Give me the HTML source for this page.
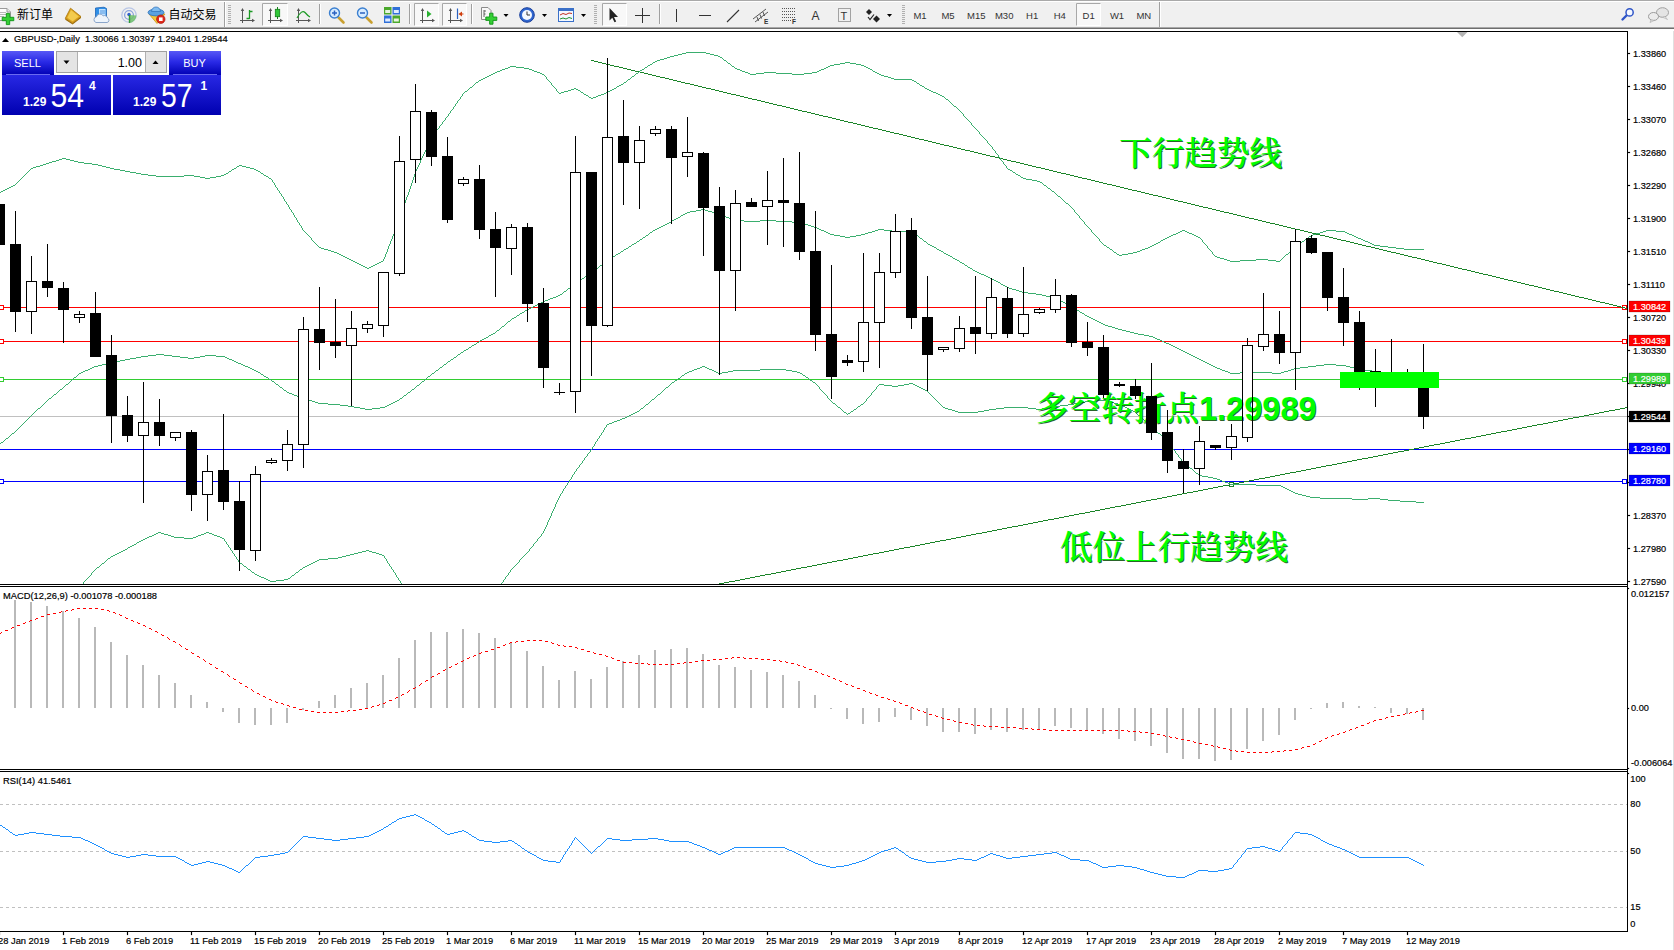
<!DOCTYPE html>
<html lang="zh"><head><meta charset="utf-8"><title>GBPUSD Daily</title>
<style>html,body{margin:0;padding:0;background:#fff;}body{width:1674px;height:950px;overflow:hidden;position:relative;font-family:'Liberation Sans', 'Noto Sans CJK SC', sans-serif;}svg{position:absolute;left:0;top:0;display:block}text{white-space:pre}</style>
</head><body>
<svg width="1674" height="950" viewBox="0 0 1674 950" font-family='"Liberation Sans", "Noto Sans CJK SC", sans-serif'>
<rect x="0" y="0" width="1674" height="950" fill="#ffffff"/>
<g id="toolbar">
<rect x="0" y="0" width="1674" height="29" fill="#f0f0f0"/>
<rect x="0" y="0" width="1674" height="1" fill="#a9a9a9" />
<rect x="0" y="1" width="1674" height="1" fill="#ffffff" />
<rect x="0" y="27" width="1674" height="1" fill="#a8a8a8" />
<rect x="0" y="28" width="1674" height="1" fill="#6e6e6e" />
<rect x="0" y="29" width="1674" height="1" fill="#ffffff" />
<rect x="0" y="30" width="1674" height="1" fill="#ffffff" />
</g>
<g id="tbicons">
<g><path d="M-1.5 8.5 H7 L10.5 12 V20.5 H-1.5 Z" fill="#fdfdfd" stroke="#9a9a9a"/><path d="M7 8.5 V12 H10.5" fill="#e8e8e8" stroke="#9a9a9a"/><path d="M0 12.5H6M0 14.5H7M0 16.5H4" stroke="#b8b8b8" stroke-width="1"/><path d="M6.3 13.4 H9.7 V17.3 H13.8 V20.7 H9.7 V24.6 H6.3 V20.7 H2.2 V17.3 H6.3 Z" fill="#35cf35" stroke="#0f9416" stroke-width="0.9"/></g>
<text x="17" y="18.5" font-size="12" fill="#000" font-family='"Liberation Sans", "Noto Sans CJK SC", sans-serif'>新订单</text>
<g><path d="M65.3 18.3 L72.6 23.2 L81 16.6 L81 18 L72.6 24.6 L65.3 19.8 Z" fill="#9a6a08"/><path d="M70.5 8.2 L81 16.6 L72.6 23.2 L65.3 18.3 Z" fill="#dca21e" stroke="#a87408" stroke-width="0.8"/><path d="M71 10 L78.8 16.4 L72.6 21.2 L67.3 17.8 Z" fill="#f3cb4e"/></g>
<g><path d="M95.5 8 L104 7.2 L106.5 8.5 V18 H95.5 Z" fill="#2f8fe6" stroke="#1a63b8" stroke-width="0.8"/><path d="M99 9 H105.5 V17 H99 Z" fill="#bfe0ff"/><path d="M100 11H105M100 13H105" stroke="#3b88d8" stroke-width="0.8"/><path d="M96 22.5 a3 3 0 0 1 0.5 -5.8 a3.6 3.6 0 0 1 6.6 -0.8 a3.2 3.2 0 0 1 4.6 2.3 a2.3 2.3 0 0 1 -0.6 4.3 Z" fill="#eef4fb" stroke="#7f9cc4" stroke-width="0.9"/></g>
<g fill="none"><circle cx="129" cy="15" r="7.2" stroke="#b9c6e6" stroke-width="1.3"/><circle cx="129" cy="15" r="4.4" stroke="#8aa2dc" stroke-width="1.3"/><path d="M129 15 L129 23 A8 8 0 0 0 136.5 15.5 Z" fill="#6fbf6a" stroke="none" opacity="0.85"/><circle cx="129" cy="14.5" r="1.7" fill="#2f5fd0"/><path d="M129.5 15 V23" stroke="#2e9a36" stroke-width="1.4"/></g>
<g><path d="M149 14 L165 14 L157 23.5 Z" fill="#f3c93c" stroke="#c9971a" stroke-width="0.8"/><ellipse cx="156" cy="12.5" rx="8" ry="3.4" fill="#5aa2e2" stroke="#2c6fb8" stroke-width="0.8"/><path d="M151.5 11.5 a4.5 4.5 0 0 1 9 0 Z" fill="#7fbcf0" stroke="#2c6fb8" stroke-width="0.7"/><circle cx="160.8" cy="19.2" r="4.2" fill="#e02a1c" stroke="#a8140c" stroke-width="0.7"/><rect x="159" y="17.4" width="3.6" height="3.6" fill="#fff"/></g>
<text x="168.5" y="18.5" font-size="12" fill="#000" font-family='"Liberation Sans", "Noto Sans CJK SC", sans-serif'>自动交易</text>
<rect x="224" y="2" width="1" height="25" fill="#a0a0a0"/><rect x="225" y="2" width="1" height="25" fill="#ffffff"/>
<rect x="228" y="5" width="3" height="1" fill="#b0b0b0"/>
<rect x="228" y="7" width="3" height="1" fill="#b0b0b0"/>
<rect x="228" y="9" width="3" height="1" fill="#b0b0b0"/>
<rect x="228" y="11" width="3" height="1" fill="#b0b0b0"/>
<rect x="228" y="13" width="3" height="1" fill="#b0b0b0"/>
<rect x="228" y="15" width="3" height="1" fill="#b0b0b0"/>
<rect x="228" y="17" width="3" height="1" fill="#b0b0b0"/>
<rect x="228" y="19" width="3" height="1" fill="#b0b0b0"/>
<rect x="228" y="21" width="3" height="1" fill="#b0b0b0"/>
<rect x="228" y="23" width="3" height="1" fill="#b0b0b0"/>
<g><path d="M242.5 9 V23 M240 20.5 H254" stroke="#555" stroke-width="1" fill="none"/><path d="M242.5 8 L240.8 11 H244.2 Z M255 20.5 L252 18.8 V22.2 Z" fill="#555"/><path d="M249.5 10 V19 M249.5 11.5 H252.5 M246.5 18.5 H249.5" stroke="#1c9a24" stroke-width="1.3" fill="none"/></g>
<rect x="262" y="3" width="26" height="23" fill="#f8f8f8"/><path d="M262.5 26 V3.5 H288" stroke="#a8a8a8" fill="none"/><path d="M262.5 25.5 H287.5 V3.5" stroke="#ffffff" fill="none"/>
<g><path d="M270.5 9 V23 M268 20.5 H282" stroke="#555" stroke-width="1" fill="none"/><path d="M270.5 8 L268.8 11 H272.2 Z M283 20.5 L280 18.8 V22.2 Z" fill="#555"/><path d="M277.5 7 V19" stroke="#14801c" stroke-width="1"/><rect x="275.3" y="9.3" width="4.4" height="7.4" fill="#30c838" stroke="#14801c" stroke-width="0.8"/></g>
<g><path d="M298.5 9 V23 M296 20.5 H310" stroke="#555" stroke-width="1" fill="none"/><path d="M298.5 8 L296.8 11 H300.2 Z M311 20.5 L308 18.8 V22.2 Z" fill="#555"/><path d="M297 18 Q302 9 305 12.5 T310 17" stroke="#1c9a24" stroke-width="1.2" fill="none"/></g>
<rect x="319" y="4" width="1" height="20" fill="#a0a0a0"/><rect x="320" y="4" width="1" height="20" fill="#ffffff"/>
<path d="M338.5 17.5 L343.5 22.5" stroke="#c9a030" stroke-width="2.6" stroke-linecap="round"/><circle cx="334.5" cy="13.0" r="5" fill="#d8ecff" stroke="#3a7fd0" stroke-width="1.4"/><path d="M332 13.0 H337" stroke="#2a62c0" stroke-width="1.5"/><path d="M334.5 10.5 V15.5" stroke="#2a62c0" stroke-width="1.5"/>
<path d="M366.5 17.5 L371.5 22.5" stroke="#c9a030" stroke-width="2.6" stroke-linecap="round"/><circle cx="362.5" cy="13.0" r="5" fill="#d8ecff" stroke="#3a7fd0" stroke-width="1.4"/><path d="M360 13.0 H365" stroke="#2a62c0" stroke-width="1.5"/>
<g><rect x="384" y="7" width="7.5" height="7.5" fill="#4aa82c"/><rect x="392.5" y="7" width="7.5" height="7.5" fill="#2f6fd8"/><rect x="384" y="15.5" width="7.5" height="7.5" fill="#2f6fd8"/><rect x="392.5" y="15.5" width="7.5" height="7.5" fill="#4aa82c"/><rect x="385.2" y="10" width="5" height="3" fill="#e8f4e0"/><rect x="393.8" y="10" width="5" height="3" fill="#e0ecff"/><rect x="385.2" y="18.5" width="5" height="3" fill="#e0ecff"/><rect x="393.8" y="18.5" width="5" height="3" fill="#e8f4e0"/></g>
<rect x="409" y="4" width="1" height="20" fill="#a0a0a0"/><rect x="410" y="4" width="1" height="20" fill="#ffffff"/>
<rect x="414" y="3" width="25" height="23" fill="#f8f8f8"/><path d="M414.5 26 V3.5 H439" stroke="#a8a8a8" fill="none"/><path d="M414.5 25.5 H438.5 V3.5" stroke="#ffffff" fill="none"/>
<g><path d="M422.5 9 V23 M420 20.5 H434" stroke="#555" stroke-width="1" fill="none"/><path d="M422.5 8 L420.8 11 H424.2 Z M435 20.5 L432 18.8 V22.2 Z" fill="#555"/><path d="M427 10.5 L431.5 14 L427 17.5 Z" fill="#28b030"/></g>
<rect x="442" y="3" width="25" height="23" fill="#f8f8f8"/><path d="M442.5 26 V3.5 H467" stroke="#a8a8a8" fill="none"/><path d="M442.5 25.5 H466.5 V3.5" stroke="#ffffff" fill="none"/>
<g><path d="M450.5 9 V23 M448 20.5 H462" stroke="#555" stroke-width="1" fill="none"/><path d="M450.5 8 L448.8 11 H452.2 Z M463 20.5 L460 18.8 V22.2 Z" fill="#555"/><path d="M457.5 8.5 V19" stroke="#2a62c0" stroke-width="1.2"/><path d="M458.5 14 L462 11.5 V16.5 Z" fill="#d04010"/><path d="M460 14 H463.5" stroke="#d04010" stroke-width="1"/></g>
<rect x="471" y="4" width="1" height="20" fill="#a0a0a0"/><rect x="472" y="4" width="1" height="20" fill="#ffffff"/>
<g><path d="M481.5 7.5 H488 L491 10.5 V19.5 H481.5 Z" fill="#f8f8f8" stroke="#8a8a8a"/><path d="M484 10 V17 M484 11H486 M484 14H485.5" stroke="#555" stroke-width="0.9" fill="none"/><path d="M489.6 13.2 H493 V17 H496.8 V20.4 H493 V24.2 H489.6 V20.4 H485.8 V17 H489.6 Z" fill="#35cf35" stroke="#0f9416" stroke-width="0.9"/></g>
<path d="M503.5 14 H508.5 L506.0 17 Z" fill="#000"/>
<g><circle cx="527" cy="15" r="7.3" fill="#2f66d0" stroke="#1a3f9a" stroke-width="1"/><circle cx="527" cy="15" r="5" fill="#f4f8ff"/><path d="M527 11.5 V15 H530" stroke="#333" stroke-width="1" fill="none"/></g>
<path d="M542 14 H547 L544.5 17 Z" fill="#000"/>
<g><rect x="558.5" y="8.5" width="15" height="13" fill="#f4f8ff" stroke="#3a70c8"/><rect x="558" y="8" width="16" height="3" fill="#3a70c8"/><path d="M560 15 L563 13.5 L566 14.5 L569 13 L572 13.5" stroke="#c03020" stroke-width="1" fill="none"/><path d="M560 19 L563 18 L566 19 L569 17.5 L572 18.5" stroke="#209030" stroke-width="1" fill="none"/></g>
<path d="M581 14 H586 L583.5 17 Z" fill="#000"/>
<rect x="594" y="5" width="3" height="1" fill="#b0b0b0"/>
<rect x="594" y="7" width="3" height="1" fill="#b0b0b0"/>
<rect x="594" y="9" width="3" height="1" fill="#b0b0b0"/>
<rect x="594" y="11" width="3" height="1" fill="#b0b0b0"/>
<rect x="594" y="13" width="3" height="1" fill="#b0b0b0"/>
<rect x="594" y="15" width="3" height="1" fill="#b0b0b0"/>
<rect x="594" y="17" width="3" height="1" fill="#b0b0b0"/>
<rect x="594" y="19" width="3" height="1" fill="#b0b0b0"/>
<rect x="594" y="21" width="3" height="1" fill="#b0b0b0"/>
<rect x="594" y="23" width="3" height="1" fill="#b0b0b0"/>
<rect x="602" y="3" width="25" height="23" fill="#f8f8f8"/><path d="M602.5 26 V3.5 H627" stroke="#a8a8a8" fill="none"/><path d="M602.5 25.5 H626.5 V3.5" stroke="#ffffff" fill="none"/>
<path d="M609.5 8 L609.5 20.5 L612.3 17.8 L614.5 22.3 L616.2 21.5 L614 17 L618 17 Z" fill="#222"/>
<path d="M642.5 8 V23 M635 15.5 H650" stroke="#333" stroke-width="1" fill="none"/>
<rect x="659" y="4" width="1" height="20" fill="#a0a0a0"/><rect x="660" y="4" width="1" height="20" fill="#ffffff"/>
<path d="M676.5 9 V22" stroke="#333" stroke-width="1"/><path d="M699 15.5 H711" stroke="#333" stroke-width="1"/><path d="M727 22 L739 10" stroke="#333" stroke-width="1.1"/>
<g stroke="#444" stroke-width="0.9" fill="none"><path d="M753 19 L766 9 M755 22 L768 12 M757 17 L758.5 21 M760 14.5 L761.5 18.5 M763 12 L764.5 16"/></g>
<text x="764" y="24" font-size="6.5" font-weight="700" fill="#333">E</text>
<g stroke="#555" stroke-width="1" stroke-dasharray="1 1"><path d="M782 8.5 H795 M782 11.5 H795 M782 14.5 H795 M782 17.5 H795 M782 20.5 H791"/></g>
<text x="792" y="24" font-size="6.5" font-weight="700" fill="#333">F</text>
<text x="811.5" y="20" font-size="12" fill="#333">A</text>
<rect x="838.5" y="8.5" width="12" height="13" fill="none" stroke="#555" stroke-dasharray="1 1"/>
<text x="840.5" y="20" font-size="11" fill="#333">T</text>
<g fill="#222"><path d="M866 12 L869 9 L872 12 L869 15 Z"/><path d="M873 19 L876.5 15.5 L880 19 L876.5 22.5 Z"/><path d="M868 17 L870 19.5 L874 14.5" stroke="#222" stroke-width="1.2" fill="none"/></g>
<path d="M887 14 H892 L889.5 17 Z" fill="#000"/>
<rect x="902" y="5" width="3" height="1" fill="#b0b0b0"/>
<rect x="902" y="7" width="3" height="1" fill="#b0b0b0"/>
<rect x="902" y="9" width="3" height="1" fill="#b0b0b0"/>
<rect x="902" y="11" width="3" height="1" fill="#b0b0b0"/>
<rect x="902" y="13" width="3" height="1" fill="#b0b0b0"/>
<rect x="902" y="15" width="3" height="1" fill="#b0b0b0"/>
<rect x="902" y="17" width="3" height="1" fill="#b0b0b0"/>
<rect x="902" y="19" width="3" height="1" fill="#b0b0b0"/>
<rect x="902" y="21" width="3" height="1" fill="#b0b0b0"/>
<rect x="902" y="23" width="3" height="1" fill="#b0b0b0"/>
<rect x="1076" y="3" width="25" height="23" fill="#f8f8f8"/><path d="M1076.5 26 V3.5 H1101" stroke="#a8a8a8" fill="none"/><path d="M1076.5 25.5 H1100.5 V3.5" stroke="#ffffff" fill="none"/>
<text x="920" y="19.2" font-size="9.5" text-anchor="middle" fill="#333">M1</text>
<text x="948" y="19.2" font-size="9.5" text-anchor="middle" fill="#333">M5</text>
<text x="976.3" y="19.2" font-size="9.5" text-anchor="middle" fill="#333">M15</text>
<text x="1004.2" y="19.2" font-size="9.5" text-anchor="middle" fill="#333">M30</text>
<text x="1032.2" y="19.2" font-size="9.5" text-anchor="middle" fill="#333">H1</text>
<text x="1059.8" y="19.2" font-size="9.5" text-anchor="middle" fill="#333">H4</text>
<text x="1088.6" y="19.2" font-size="9.5" text-anchor="middle" fill="#333">D1</text>
<text x="1117" y="19.2" font-size="9.5" text-anchor="middle" fill="#333">W1</text>
<text x="1143.8" y="19.2" font-size="9.5" text-anchor="middle" fill="#333">MN</text>
<rect x="1159" y="2" width="1" height="25" fill="#a0a0a0"/><rect x="1160" y="2" width="1" height="25" fill="#ffffff"/>
<g><path d="M1622.5 19.5 L1626.5 15.5" stroke="#2f55c8" stroke-width="2.4" stroke-linecap="round"/><circle cx="1629.6" cy="12.4" r="3.6" fill="#f4f8ff" stroke="#2f55c8" stroke-width="1.5"/></g>
<g><ellipse cx="1662.5" cy="12.5" rx="6" ry="4.8" fill="#e4e4e4" stroke="#a0a0a0"/><path d="M1665 16.5 L1667.5 19.5 L1662.5 17.2 Z" fill="#e8e8e8" stroke="#b4b4b4" stroke-width="0.7"/><ellipse cx="1653.5" cy="16.5" rx="5" ry="4" fill="#ececec" stroke="#9c9c9c"/><path d="M1651 20 L1650 22.5 L1654.5 20.3 Z" fill="#f0f0f0" stroke="#aaaaaa" stroke-width="0.7"/></g>
</g>
<g id="frame" shape-rendering="crispEdges">
<rect x="0" y="31" width="1628" height="1" fill="#000" />
<rect x="1627" y="31" width="1" height="900" fill="#000"/>
<rect x="0" y="584" width="1628" height="1" fill="#000" />
<rect x="0" y="586" width="1628" height="1" fill="#000" />
<rect x="0" y="769" width="1628" height="1" fill="#000" />
<rect x="0" y="771" width="1628" height="1" fill="#000" />
<rect x="0" y="931" width="1628" height="1" fill="#000" />
<rect x="1673" y="31" width="1" height="919" fill="#e0e0e0"/>
</g>
<defs><clipPath id="cmain"><rect x="0" y="32" width="1627" height="552"/></clipPath><clipPath id="cmacd"><rect x="0" y="587" width="1627" height="182"/></clipPath><clipPath id="crsi"><rect x="0" y="772" width="1627" height="159"/></clipPath><linearGradient id="gb" x1="0" y1="0" x2="0" y2="1"><stop offset="0" stop-color="#5858f6"/><stop offset="0.45" stop-color="#2a2ae6"/><stop offset="1" stop-color="#0000b4"/></linearGradient></defs>
<g id="main" clip-path="url(#cmain)">
<g shape-rendering="crispEdges">
<rect x="0" y="416" width="1627" height="1" fill="#c0c0c0" />
<rect x="0" y="307" width="1627" height="1" fill="#ff0000" /><rect x="-0.5" y="305.5" width="4" height="4" fill="#fff" stroke="#ff0000" stroke-width="1"/><rect x="1622.5" y="305.5" width="4" height="4" fill="#fff" stroke="#ff0000" stroke-width="1"/>
<rect x="0" y="341" width="1627" height="1" fill="#ff0000" /><rect x="-0.5" y="339.5" width="4" height="4" fill="#fff" stroke="#ff0000" stroke-width="1"/><rect x="1622.5" y="339.5" width="4" height="4" fill="#fff" stroke="#ff0000" stroke-width="1"/>
<rect x="0" y="379" width="1627" height="1" fill="#32cd32" /><rect x="-0.5" y="377.5" width="4" height="4" fill="#fff" stroke="#32cd32" stroke-width="1"/><rect x="1622.5" y="377.5" width="4" height="4" fill="#fff" stroke="#32cd32" stroke-width="1"/>
<rect x="0" y="449" width="1627" height="1" fill="#0000ff" />
<rect x="0" y="481" width="1627" height="1" fill="#0000ff" /><rect x="-0.5" y="479.5" width="4" height="4" fill="#fff" stroke="#0000ff" stroke-width="1"/><rect x="1622.5" y="479.5" width="4" height="4" fill="#fff" stroke="#0000ff" stroke-width="1"/>
<path d="M591 60.5h3M594 61.5h4M598 62.5h4M602 63.5h4M606 64.5h4M610 65.5h4M614 66.5h5M619 67.5h4M623 68.5h4M627 69.5h4M631 70.5h4M635 71.5h5M640 72.5h4M644 73.5h4M648 74.5h4M652 75.5h4M656 76.5h4M660 77.5h5M665 78.5h4M669 79.5h4M673 80.5h4M677 81.5h4M681 82.5h4M685 83.5h5M690 84.5h4M694 85.5h4M698 86.5h4M702 87.5h4M706 88.5h5M711 89.5h4M715 90.5h4M719 91.5h4M723 92.5h4M727 93.5h4M731 94.5h5M736 95.5h4M740 96.5h4M744 97.5h4M748 98.5h4M752 99.5h5M757 100.5h4M761 101.5h4M765 102.5h4M769 103.5h4M773 104.5h4M777 105.5h5M782 106.5h4M786 107.5h4M790 108.5h4M794 109.5h4M798 110.5h4M802 111.5h5M807 112.5h4M811 113.5h4M815 114.5h4M819 115.5h4M823 116.5h5M828 117.5h4M832 118.5h4M836 119.5h4M840 120.5h4M844 121.5h4M848 122.5h5M853 123.5h4M857 124.5h4M861 125.5h4M865 126.5h4M869 127.5h4M873 128.5h5M878 129.5h4M882 130.5h4M886 131.5h4M890 132.5h4M894 133.5h5M899 134.5h4M903 135.5h4M907 136.5h4M911 137.5h4M915 138.5h4M919 139.5h5M924 140.5h4M928 141.5h4M932 142.5h4M936 143.5h4M940 144.5h4M944 145.5h5M949 146.5h4M953 147.5h4M957 148.5h4M961 149.5h4M965 150.5h5M970 151.5h4M974 152.5h4M978 153.5h4M982 154.5h4M986 155.5h4M990 156.5h5M995 157.5h4M999 158.5h4M1003 159.5h4M1007 160.5h4M1011 161.5h5M1016 162.5h4M1020 163.5h4M1024 164.5h4M1028 165.5h4M1032 166.5h4M1036 167.5h5M1041 168.5h4M1045 169.5h4M1049 170.5h4M1053 171.5h4M1057 172.5h4M1061 173.5h5M1066 174.5h4M1070 175.5h4M1074 176.5h4M1078 177.5h4M1082 178.5h5M1087 179.5h4M1091 180.5h4M1095 181.5h4M1099 182.5h4M1103 183.5h4M1107 184.5h5M1112 185.5h4M1116 186.5h4M1120 187.5h4M1124 188.5h4M1128 189.5h4M1132 190.5h5M1137 191.5h4M1141 192.5h4M1145 193.5h4M1149 194.5h4M1153 195.5h5M1158 196.5h4M1162 197.5h4M1166 198.5h4M1170 199.5h4M1174 200.5h4M1178 201.5h5M1183 202.5h4M1187 203.5h4M1191 204.5h4M1195 205.5h4M1199 206.5h4M1203 207.5h5M1208 208.5h4M1212 209.5h4M1216 210.5h4M1220 211.5h4M1224 212.5h5M1229 213.5h4M1233 214.5h4M1237 215.5h4M1241 216.5h4M1245 217.5h4M1249 218.5h5M1254 219.5h4M1258 220.5h4M1262 221.5h4M1266 222.5h4M1270 223.5h5M1275 224.5h4M1279 225.5h4M1283 226.5h4M1287 227.5h4M1291 228.5h4M1295 229.5h5M1300 230.5h4M1304 231.5h4M1308 232.5h4M1312 233.5h4M1316 234.5h4M1320 235.5h5M1325 236.5h4M1329 237.5h4M1333 238.5h4M1337 239.5h4M1341 240.5h5M1346 241.5h4M1350 242.5h4M1354 243.5h4M1358 244.5h4M1362 245.5h4M1366 246.5h5M1371 247.5h4M1375 248.5h4M1379 249.5h4M1383 250.5h4M1387 251.5h4M1391 252.5h5M1396 253.5h4M1400 254.5h4M1404 255.5h4M1408 256.5h4M1412 257.5h5M1417 258.5h4M1421 259.5h4M1425 260.5h4M1429 261.5h4M1433 262.5h4M1437 263.5h5M1442 264.5h4M1446 265.5h4M1450 266.5h4M1454 267.5h4M1458 268.5h4M1462 269.5h5M1467 270.5h4M1471 271.5h4M1475 272.5h4M1479 273.5h4M1483 274.5h5M1488 275.5h4M1492 276.5h4M1496 277.5h4M1500 278.5h4M1504 279.5h4M1508 280.5h5M1513 281.5h4M1517 282.5h4M1521 283.5h4M1525 284.5h4M1529 285.5h5M1534 286.5h4M1538 287.5h4M1542 288.5h4M1546 289.5h4M1550 290.5h4M1554 291.5h5M1559 292.5h4M1563 293.5h4M1567 294.5h4M1571 295.5h4M1575 296.5h4M1579 297.5h5M1584 298.5h4M1588 299.5h4M1592 300.5h4M1596 301.5h4M1600 302.5h5M1605 303.5h4M1609 304.5h4M1613 305.5h4M1617 306.5h4M1621 307.5h4M1625 308.5h2" fill="none" stroke="#1a8428" stroke-width="1" shape-rendering="crispEdges"/>
<path d="M1625 407.5h2M1620 408.5h5M1615 409.5h5M1609 410.5h6M1604 411.5h5M1599 412.5h5M1594 413.5h5M1589 414.5h5M1584 415.5h5M1579 416.5h5M1573 417.5h6M1568 418.5h5M1563 419.5h5M1558 420.5h5M1553 421.5h5M1548 422.5h5M1543 423.5h5M1537 424.5h6M1532 425.5h5M1527 426.5h5M1522 427.5h5M1517 428.5h5M1512 429.5h5M1507 430.5h5M1501 431.5h6M1496 432.5h5M1491 433.5h5M1486 434.5h5M1481 435.5h5M1476 436.5h5M1471 437.5h5M1465 438.5h6M1460 439.5h5M1455 440.5h5M1450 441.5h5M1445 442.5h5M1440 443.5h5M1434 444.5h6M1429 445.5h5M1424 446.5h5M1419 447.5h5M1414 448.5h5M1409 449.5h5M1404 450.5h5M1398 451.5h6M1393 452.5h5M1388 453.5h5M1383 454.5h5M1378 455.5h5M1373 456.5h5M1368 457.5h5M1362 458.5h6M1357 459.5h5M1352 460.5h5M1347 461.5h5M1342 462.5h5M1337 463.5h5M1332 464.5h5M1326 465.5h6M1321 466.5h5M1316 467.5h5M1311 468.5h5M1306 469.5h5M1301 470.5h5M1296 471.5h5M1290 472.5h6M1285 473.5h5M1280 474.5h5M1275 475.5h5M1270 476.5h5M1265 477.5h5M1259 478.5h6M1254 479.5h5M1249 480.5h5M1244 481.5h5M1239 482.5h5M1234 483.5h5M1229 484.5h5M1223 485.5h6M1218 486.5h5M1213 487.5h5M1208 488.5h5M1203 489.5h5M1198 490.5h5M1193 491.5h5M1187 492.5h6M1182 493.5h5M1177 494.5h5M1172 495.5h5M1167 496.5h5M1162 497.5h5M1157 498.5h5M1151 499.5h6M1146 500.5h5M1141 501.5h5M1136 502.5h5M1131 503.5h5M1126 504.5h5M1121 505.5h5M1115 506.5h6M1110 507.5h5M1105 508.5h5M1100 509.5h5M1095 510.5h5M1090 511.5h5M1085 512.5h5M1079 513.5h6M1074 514.5h5M1069 515.5h5M1064 516.5h5M1059 517.5h5M1054 518.5h5M1048 519.5h6M1043 520.5h5M1038 521.5h5M1033 522.5h5M1028 523.5h5M1023 524.5h5M1018 525.5h5M1012 526.5h6M1007 527.5h5M1002 528.5h5M997 529.5h5M992 530.5h5M987 531.5h5M982 532.5h5M976 533.5h6M971 534.5h5M966 535.5h5M961 536.5h5M956 537.5h5M951 538.5h5M946 539.5h5M940 540.5h6M935 541.5h5M930 542.5h5M925 543.5h5M920 544.5h5M915 545.5h5M910 546.5h5M904 547.5h6M899 548.5h5M894 549.5h5M889 550.5h5M884 551.5h5M879 552.5h5M873 553.5h6M868 554.5h5M863 555.5h5M858 556.5h5M853 557.5h5M848 558.5h5M843 559.5h5M837 560.5h6M832 561.5h5M827 562.5h5M822 563.5h5M817 564.5h5M812 565.5h5M807 566.5h5M801 567.5h6M796 568.5h5M791 569.5h5M786 570.5h5M781 571.5h5M776 572.5h5M771 573.5h5M765 574.5h6M760 575.5h5M755 576.5h5M750 577.5h5M745 578.5h5M740 579.5h5M735 580.5h5M729 581.5h6M724 582.5h5M719 583.5h5" fill="none" stroke="#1a8428" stroke-width="1" shape-rendering="crispEdges"/>
<rect x="1229.5" y="482.5" width="4" height="4" fill="#fff" stroke="#1a8428" stroke-width="1"/>
</g>
<path d="M272.5 180v2M274.5 183v2M275.5 185v2M277.5 188v2M279.5 191v2M281.5 194v2M283.5 197v2M284.5 199v2M286.5 202v2M288.5 205v2M289.5 207v2M291.5 210v2M293.5 213v2M294.5 215v2M296.5 218v2M297.5 220v2M299.5 223v2M301.5 226v2M302.5 228v2M311.5 238v2M383.5 259v2M384.5 257v2M385.5 254v3M386.5 252v2M387.5 249v3M388.5 246v3M389.5 244v2M390.5 241v3M391.5 239v2M392.5 236v3M393.5 234v2M394.5 231v3M395.5 228v3M396.5 226v2M397.5 223v3M398.5 221v2M399.5 218v3M400.5 215v3M401.5 212v3M402.5 209v3M403.5 206v3M404.5 203v3M405.5 200v3M406.5 197v3M407.5 195v2M408.5 192v3M409.5 189v3M410.5 186v3M411.5 183v3M412.5 180v3M413.5 177v3M414.5 174v3M415.5 171v3M416.5 169v2M417.5 167v2M418.5 165v2M419.5 163v2M420.5 160v3M421.5 158v2M422.5 156v2M423.5 154v2M424.5 152v2M425.5 150v2M426.5 147v3M427.5 145v2M428.5 143v2M429.5 141v2M430.5 139v2M431.5 137v2M433.5 134v2M436.5 130v2M439.5 126v2M442.5 122v2M445.5 118v2M448.5 114v2M450.5 111v2M453.5 107v2M455.5 104v2M457.5 101v2M460.5 97v2M462.5 94v2M546.5 77v2M551.5 83v2M556.5 89v2M963.5 114v2M971.5 123v2M979.5 132v2M987.5 141v2M992.5 147v2M995.5 151v2M998.5 155v2M1000.5 158v2M1003.5 162v2M1006.5 166v2M1074.5 210v2M1079.5 216v2M1084.5 222v2M1091.5 230v2M1099.5 239v2M1202.5 240v2M1207.5 246v2M1212.5 252v2M686 52.5h20M682 53.5h4M706 53.5h4M678 54.5h4M710 54.5h4M674 55.5h4M714 55.5h4M670 56.5h4M718 56.5h2M667 57.5h3M720 57.5h2M664 58.5h3M722 58.5h1M660 59.5h4M723 59.5h1M657 60.5h3M724 60.5h2M655 61.5h2M726 61.5h1M653 62.5h2M727 62.5h1M845 62.5h5M652 63.5h1M728 63.5h2M840 63.5h5M850 63.5h6M650 64.5h2M730 64.5h1M834 64.5h6M856 64.5h5M648 65.5h2M731 65.5h1M830 65.5h4M861 65.5h3M510 66.5h6M647 66.5h1M732 66.5h2M828 66.5h2M864 66.5h2M508 67.5h2M516 67.5h8M645 67.5h2M734 67.5h1M826 67.5h2M866 67.5h2M505 68.5h3M524 68.5h5M644 68.5h1M735 68.5h2M824 68.5h2M868 68.5h2M502 69.5h3M529 69.5h3M642 69.5h2M737 69.5h3M821 69.5h3M870 69.5h2M500 70.5h2M532 70.5h2M640 70.5h2M740 70.5h2M819 70.5h2M872 70.5h1M497 71.5h3M534 71.5h3M639 71.5h1M742 71.5h3M817 71.5h2M873 71.5h2M495 72.5h2M537 72.5h3M638 72.5h1M745 72.5h3M764 72.5h12M812 72.5h5M875 72.5h2M493 73.5h2M540 73.5h2M636 73.5h2M748 73.5h2M756 73.5h8M776 73.5h16M804 73.5h8M877 73.5h2M491 74.5h2M542 74.5h2M635 74.5h1M750 74.5h6M792 74.5h12M879 74.5h2M489 75.5h2M544 75.5h1M634 75.5h1M881 75.5h3M487 76.5h2M545 76.5h1M632 76.5h2M884 76.5h4M485 77.5h2M631 77.5h1M888 77.5h3M483 78.5h2M630 78.5h1M891 78.5h3M481 79.5h2M547 79.5h1M628 79.5h2M894 79.5h18M479 80.5h2M548 80.5h1M627 80.5h1M912 80.5h2M478 81.5h1M549 81.5h1M626 81.5h1M914 81.5h2M476 82.5h2M550 82.5h1M624 82.5h2M916 82.5h1M475 83.5h1M623 83.5h1M917 83.5h2M474 84.5h1M621 84.5h2M919 84.5h1M473 85.5h1M552 85.5h1M619 85.5h2M920 85.5h2M472 86.5h1M553 86.5h1M617 86.5h2M922 86.5h2M470 87.5h2M554 87.5h1M616 87.5h1M924 87.5h1M469 88.5h1M555 88.5h1M574 88.5h2M614 88.5h2M925 88.5h2M468 89.5h1M571 89.5h3M576 89.5h2M612 89.5h2M927 89.5h2M467 90.5h1M568 90.5h3M578 90.5h2M610 90.5h2M929 90.5h2M465 91.5h2M557 91.5h1M564 91.5h4M580 91.5h1M608 91.5h2M931 91.5h2M464 92.5h1M558 92.5h1M561 92.5h3M581 92.5h2M606 92.5h2M933 92.5h3M463 93.5h1M559 93.5h2M583 93.5h1M604 93.5h2M936 93.5h2M584 94.5h2M601 94.5h3M938 94.5h2M586 95.5h2M598 95.5h3M940 95.5h2M461 96.5h1M588 96.5h1M596 96.5h2M942 96.5h2M589 97.5h2M593 97.5h3M944 97.5h1M591 98.5h2M945 98.5h1M459 99.5h1M946 99.5h2M458 100.5h1M948 100.5h1M949 101.5h1M950 102.5h1M456 103.5h1M951 103.5h1M952 104.5h1M953 105.5h1M454 106.5h1M954 106.5h2M956 107.5h1M957 108.5h1M452 109.5h1M958 109.5h1M451 110.5h1M959 110.5h1M960 111.5h1M961 112.5h1M449 113.5h1M962 113.5h1M447 116.5h1M964 116.5h1M446 117.5h1M965 117.5h1M966 118.5h1M967 119.5h1M444 120.5h1M968 120.5h1M443 121.5h1M969 121.5h1M970 122.5h1M441 124.5h1M440 125.5h1M972 125.5h1M973 126.5h1M974 127.5h1M438 128.5h1M975 128.5h1M437 129.5h1M976 129.5h1M977 130.5h1M978 131.5h1M435 132.5h1M434 133.5h1M980 134.5h1M981 135.5h1M432 136.5h1M982 136.5h1M983 137.5h1M984 138.5h1M985 139.5h1M986 140.5h1M988 143.5h1M989 144.5h1M990 145.5h1M991 146.5h1M993 149.5h1M994 150.5h1M996 153.5h1M997 154.5h1M999 157.5h1M62 158.5h4M59 159.5h3M66 159.5h4M56 160.5h3M70 160.5h4M1001 160.5h1M52 161.5h4M74 161.5h4M1002 161.5h1M49 162.5h3M78 162.5h6M46 163.5h3M84 163.5h8M43 164.5h3M92 164.5h6M1004 164.5h1M40 165.5h3M98 165.5h4M239 165.5h3M1005 165.5h1M36 166.5h4M102 166.5h4M237 166.5h2M242 166.5h4M33 167.5h3M106 167.5h4M236 167.5h1M246 167.5h4M31 168.5h2M110 168.5h4M234 168.5h2M250 168.5h4M1007 168.5h1M30 169.5h1M114 169.5h6M232 169.5h2M254 169.5h2M1008 169.5h2M29 170.5h1M120 170.5h5M231 170.5h1M256 170.5h2M1010 170.5h2M28 171.5h1M125 171.5h5M229 171.5h2M258 171.5h2M1012 171.5h1M27 172.5h1M130 172.5h6M228 172.5h1M260 172.5h1M1013 172.5h2M26 173.5h1M136 173.5h5M226 173.5h2M261 173.5h2M1015 173.5h1M25 174.5h1M141 174.5h7M224 174.5h2M263 174.5h1M1016 174.5h2M24 175.5h1M148 175.5h8M184 175.5h10M221 175.5h3M264 175.5h2M1018 175.5h2M23 176.5h1M156 176.5h28M194 176.5h6M216 176.5h5M266 176.5h2M1020 176.5h1M22 177.5h1M200 177.5h5M210 177.5h6M268 177.5h1M1021 177.5h2M21 178.5h1M205 178.5h5M269 178.5h2M1023 178.5h3M20 179.5h1M271 179.5h1M1026 179.5h6M19 180.5h1M1032 180.5h5M18 181.5h1M1037 181.5h3M17 182.5h1M273 182.5h1M1040 182.5h2M16 183.5h1M1042 183.5h1M15 184.5h1M1043 184.5h1M13 185.5h2M1044 185.5h2M11 186.5h2M1046 186.5h1M9 187.5h2M276 187.5h1M1047 187.5h1M7 188.5h2M1048 188.5h2M5 189.5h2M1050 189.5h1M3 190.5h2M278 190.5h1M1051 190.5h1M1 191.5h2M1052 191.5h2M0 192.5h1M1054 192.5h1M280 193.5h1M1055 193.5h1M1056 194.5h1M1057 195.5h1M282 196.5h1M1058 196.5h2M1060 197.5h1M1061 198.5h1M1062 199.5h1M1063 200.5h1M285 201.5h1M1064 201.5h1M1065 202.5h1M1066 203.5h2M287 204.5h1M1068 204.5h1M1069 205.5h1M1070 206.5h1M1071 207.5h1M1072 208.5h1M290 209.5h1M1073 209.5h1M292 212.5h1M1075 212.5h1M1076 213.5h1M1077 214.5h1M1078 215.5h1M295 217.5h1M1080 218.5h1M1081 219.5h1M1082 220.5h1M1083 221.5h1M298 222.5h1M1085 224.5h1M300 225.5h1M1086 225.5h1M1087 226.5h1M1088 227.5h1M1089 228.5h1M1090 229.5h1M303 230.5h1M1182 230.5h3M1326 230.5h10M304 231.5h1M1180 231.5h2M1185 231.5h2M1323 231.5h3M1336 231.5h9M305 232.5h1M1092 232.5h1M1178 232.5h2M1187 232.5h2M1320 232.5h3M1345 232.5h2M306 233.5h1M1093 233.5h1M1176 233.5h2M1189 233.5h3M1316 233.5h4M1347 233.5h2M307 234.5h1M1094 234.5h1M1173 234.5h3M1192 234.5h2M1313 234.5h3M1349 234.5h3M308 235.5h1M1095 235.5h1M1171 235.5h2M1194 235.5h2M1311 235.5h2M1352 235.5h2M309 236.5h1M1096 236.5h1M1169 236.5h2M1196 236.5h2M1309 236.5h2M1354 236.5h2M310 237.5h1M1097 237.5h1M1167 237.5h2M1198 237.5h2M1308 237.5h1M1356 237.5h2M1098 238.5h1M1165 238.5h2M1200 238.5h1M1306 238.5h2M1358 238.5h3M1163 239.5h2M1201 239.5h1M1305 239.5h1M1361 239.5h2M312 240.5h1M1161 240.5h2M1304 240.5h1M1363 240.5h2M313 241.5h1M1100 241.5h1M1160 241.5h1M1302 241.5h2M1365 241.5h3M314 242.5h1M1101 242.5h1M1158 242.5h2M1203 242.5h1M1301 242.5h1M1368 242.5h2M315 243.5h1M1102 243.5h1M1156 243.5h2M1204 243.5h1M1299 243.5h2M1370 243.5h2M316 244.5h1M1103 244.5h1M1154 244.5h2M1205 244.5h1M1298 244.5h1M1372 244.5h2M317 245.5h1M1104 245.5h2M1152 245.5h2M1206 245.5h1M1296 245.5h2M1374 245.5h6M318 246.5h1M1106 246.5h1M1150 246.5h2M1295 246.5h1M1380 246.5h8M319 247.5h2M1107 247.5h2M1148 247.5h2M1294 247.5h1M1388 247.5h8M321 248.5h3M1109 248.5h1M1145 248.5h3M1208 248.5h1M1293 248.5h1M1396 248.5h8M324 249.5h4M1110 249.5h2M1142 249.5h3M1209 249.5h1M1292 249.5h1M1404 249.5h20M328 250.5h3M1112 250.5h1M1140 250.5h2M1210 250.5h1M1291 250.5h1M331 251.5h3M1113 251.5h1M1137 251.5h3M1211 251.5h1M1290 251.5h1M334 252.5h3M1114 252.5h2M1133 252.5h4M1289 252.5h1M337 253.5h2M1116 253.5h1M1128 253.5h5M1288 253.5h1M339 254.5h2M1117 254.5h2M1122 254.5h6M1213 254.5h1M1286 254.5h2M341 255.5h2M1119 255.5h3M1214 255.5h1M1285 255.5h1M343 256.5h2M1215 256.5h2M1284 256.5h1M345 257.5h2M1217 257.5h3M1283 257.5h1M347 258.5h2M1220 258.5h4M1282 258.5h1M349 259.5h2M1224 259.5h3M1256 259.5h12M1281 259.5h1M351 260.5h2M1227 260.5h3M1240 260.5h16M1268 260.5h8M1280 260.5h1M353 261.5h2M381 261.5h2M1230 261.5h10M1276 261.5h4M355 262.5h2M379 262.5h2M357 263.5h2M377 263.5h2M359 264.5h2M375 264.5h2M361 265.5h2M373 265.5h2M363 266.5h2M371 266.5h2M365 267.5h2M369 267.5h2M367 268.5h2" fill="none" stroke="#3aae6e" stroke-width="1" shape-rendering="crispEdges"/>
<path d="M701 209.5h4M696 210.5h5M705 210.5h3M690 211.5h6M708 211.5h4M687 212.5h3M712 212.5h3M685 213.5h2M715 213.5h3M683 214.5h2M718 214.5h3M681 215.5h2M721 215.5h3M680 216.5h1M724 216.5h2M678 217.5h2M726 217.5h3M676 218.5h2M729 218.5h3M674 219.5h2M732 219.5h2M672 220.5h2M734 220.5h10M760 220.5h16M671 221.5h1M744 221.5h16M776 221.5h16M669 222.5h2M792 222.5h9M667 223.5h2M801 223.5h3M665 224.5h2M804 224.5h4M663 225.5h2M808 225.5h3M661 226.5h2M811 226.5h3M659 227.5h2M814 227.5h3M657 228.5h2M817 228.5h2M655 229.5h2M819 229.5h2M878 229.5h6M653 230.5h2M821 230.5h3M875 230.5h3M884 230.5h8M652 231.5h1M824 231.5h2M872 231.5h3M892 231.5h20M650 232.5h2M826 232.5h2M868 232.5h4M912 232.5h2M649 233.5h1M828 233.5h2M865 233.5h3M914 233.5h1M648 234.5h1M830 234.5h4M861 234.5h4M915 234.5h1M646 235.5h2M834 235.5h6M856 235.5h5M916 235.5h2M645 236.5h1M840 236.5h5M850 236.5h6M918 236.5h1M643 237.5h2M845 237.5h5M919 237.5h1M642 238.5h1M920 238.5h2M640 239.5h2M922 239.5h1M639 240.5h1M923 240.5h1M637 241.5h2M924 241.5h2M636 242.5h1M926 242.5h1M634 243.5h2M927 243.5h1M632 244.5h2M928 244.5h2M631 245.5h1M930 245.5h2M629 246.5h2M932 246.5h2M628 247.5h1M934 247.5h2M626 248.5h2M936 248.5h1M624 249.5h2M937 249.5h2M623 250.5h1M939 250.5h2M621 251.5h2M941 251.5h2M620 252.5h1M943 252.5h1M618 253.5h2M944 253.5h2M616 254.5h2M946 254.5h2M615 255.5h1M948 255.5h2M613 256.5h2M950 256.5h2M612 257.5h1M952 257.5h1M610 258.5h2M953 258.5h2M608 259.5h2M955 259.5h2M607 260.5h1M957 260.5h2M606 261.5h1M959 261.5h1M604 262.5h2M960 262.5h2M603 263.5h1M962 263.5h2M602 264.5h1M964 264.5h1M600 265.5h2M965 265.5h2M599 266.5h1M967 266.5h1M598 267.5h1M968 267.5h2M596 268.5h2M970 268.5h2M595 269.5h1M972 269.5h1M594 270.5h1M973 270.5h2M592 271.5h2M975 271.5h2M591 272.5h1M977 272.5h2M589 273.5h2M979 273.5h2M588 274.5h1M981 274.5h3M586 275.5h2M984 275.5h2M585 276.5h1M986 276.5h2M584 277.5h1M988 277.5h2M582 278.5h2M990 278.5h2M581 279.5h1M992 279.5h2M579 280.5h2M994 280.5h2M578 281.5h1M996 281.5h2M576 282.5h2M998 282.5h2M575 283.5h1M1000 283.5h1M574 284.5h1M1001 284.5h2M572 285.5h2M1003 285.5h2M571 286.5h1M1005 286.5h2M570 287.5h1M1007 287.5h2M568 288.5h2M1009 288.5h3M567 289.5h1M1012 289.5h4M566 290.5h1M1016 290.5h3M564 291.5h2M1019 291.5h3M563 292.5h1M1022 292.5h6M562 293.5h1M1028 293.5h8M560 294.5h2M1036 294.5h6M558 295.5h2M1042 295.5h4M556 296.5h2M1046 296.5h4M553 297.5h3M1050 297.5h4M550 298.5h3M1054 298.5h3M548 299.5h2M1057 299.5h2M545 300.5h3M1059 300.5h2M543 301.5h2M1061 301.5h2M541 302.5h2M1063 302.5h2M539 303.5h2M1065 303.5h2M537 304.5h2M1067 304.5h2M535 305.5h2M1069 305.5h2M533 306.5h2M1071 306.5h1M531 307.5h2M1072 307.5h2M529 308.5h2M1074 308.5h2M527 309.5h2M1076 309.5h1M525 310.5h2M1077 310.5h2M524 311.5h1M1079 311.5h1M522 312.5h2M1080 312.5h2M520 313.5h2M1082 313.5h2M519 314.5h1M1084 314.5h1M517 315.5h2M1085 315.5h2M516 316.5h1M1087 316.5h2M514 317.5h2M1089 317.5h2M512 318.5h2M1091 318.5h2M511 319.5h1M1093 319.5h2M510 320.5h1M1095 320.5h2M508 321.5h2M1097 321.5h2M507 322.5h1M1099 322.5h2M506 323.5h1M1101 323.5h2M505 324.5h1M1103 324.5h2M504 325.5h1M1105 325.5h3M502 326.5h2M1108 326.5h4M501 327.5h1M1112 327.5h3M500 328.5h1M1115 328.5h3M499 329.5h1M1118 329.5h4M497 330.5h2M1122 330.5h4M496 331.5h1M1126 331.5h4M495 332.5h1M1130 332.5h4M493 333.5h2M1134 333.5h4M491 334.5h2M1138 334.5h6M489 335.5h2M1144 335.5h5M488 336.5h1M1149 336.5h4M486 337.5h2M1153 337.5h2M484 338.5h2M1155 338.5h2M482 339.5h2M1157 339.5h3M480 340.5h2M1160 340.5h2M479 341.5h1M1162 341.5h2M477 342.5h2M1164 342.5h2M476 343.5h1M1166 343.5h3M474 344.5h2M1169 344.5h2M472 345.5h2M1171 345.5h2M471 346.5h1M1173 346.5h2M469 347.5h2M1175 347.5h2M468 348.5h1M1177 348.5h2M466 349.5h2M1179 349.5h2M464 350.5h2M1181 350.5h2M463 351.5h1M1183 351.5h2M461 352.5h2M1185 352.5h2M460 353.5h1M1187 353.5h2M156 354.5h8M458 354.5h2M1189 354.5h2M148 355.5h8M164 355.5h8M205 355.5h11M457 355.5h1M1191 355.5h2M141 356.5h7M172 356.5h8M200 356.5h5M216 356.5h9M456 356.5h1M1193 356.5h2M136 357.5h5M180 357.5h8M194 357.5h6M225 357.5h2M454 357.5h2M1195 357.5h2M130 358.5h6M188 358.5h6M227 358.5h2M453 358.5h1M1197 358.5h2M125 359.5h5M229 359.5h3M451 359.5h2M1199 359.5h2M120 360.5h5M232 360.5h2M450 360.5h1M1201 360.5h2M114 361.5h6M234 361.5h2M448 361.5h2M1203 361.5h2M110 362.5h4M236 362.5h2M447 362.5h1M1205 362.5h2M106 363.5h4M238 363.5h3M446 363.5h1M1207 363.5h2M102 364.5h4M241 364.5h2M444 364.5h2M1209 364.5h2M1324 364.5h12M98 365.5h4M243 365.5h2M443 365.5h1M1211 365.5h2M1316 365.5h8M1336 365.5h10M94 366.5h4M245 366.5h3M442 366.5h1M1213 366.5h2M1308 366.5h8M1346 366.5h4M92 367.5h2M248 367.5h2M440 367.5h2M1215 367.5h2M1300 367.5h8M1350 367.5h4M90 368.5h2M250 368.5h2M439 368.5h1M1217 368.5h3M1294 368.5h6M1354 368.5h4M88 369.5h2M252 369.5h2M438 369.5h1M1220 369.5h2M1291 369.5h3M1358 369.5h6M85 370.5h3M254 370.5h2M436 370.5h2M1222 370.5h3M1288 370.5h3M1364 370.5h8M83 371.5h2M256 371.5h2M435 371.5h1M1225 371.5h3M1284 371.5h4M1372 371.5h8M81 372.5h2M258 372.5h2M434 372.5h1M1228 372.5h2M1240 372.5h32M1281 372.5h3M1380 372.5h8M79 373.5h2M260 373.5h1M432 373.5h2M1230 373.5h10M1272 373.5h9M1388 373.5h12M78 374.5h1M261 374.5h2M431 374.5h1M1400 374.5h16M77 375.5h1M263 375.5h1M430 375.5h1M1416 375.5h8M76 376.5h1M264 376.5h2M428 376.5h2M74 377.5h2M266 377.5h2M427 377.5h1M73 378.5h1M268 378.5h1M426 378.5h1M72 379.5h1M269 379.5h2M425 379.5h1M71 380.5h1M271 380.5h1M424 380.5h1M70 381.5h1M272 381.5h2M422 381.5h2M69 382.5h1M274 382.5h1M421 382.5h1M68 383.5h1M275 383.5h1M420 383.5h1M66 384.5h2M276 384.5h2M419 384.5h1M65 385.5h1M278 385.5h1M417 385.5h2M64 386.5h1M279 386.5h1M416 386.5h1M63 387.5h1M280 387.5h2M415 387.5h1M62 388.5h1M282 388.5h1M414 388.5h1M60 389.5h2M283 389.5h1M412 389.5h2M59 390.5h1M284 390.5h2M411 390.5h1M58 391.5h1M286 391.5h1M410 391.5h1M57 392.5h1M287 392.5h2M408 392.5h2M56 393.5h1M289 393.5h3M407 393.5h1M54 394.5h2M292 394.5h2M406 394.5h1M53 395.5h1M294 395.5h3M404 395.5h2M52 396.5h1M297 396.5h3M403 396.5h1M51 397.5h1M300 397.5h2M402 397.5h1M49 398.5h2M302 398.5h3M400 398.5h2M48 399.5h1M305 399.5h3M399 399.5h1M47 400.5h1M308 400.5h4M397 400.5h2M46 401.5h1M312 401.5h3M395 401.5h2M45 402.5h1M315 402.5h3M393 402.5h2M44 403.5h1M318 403.5h10M391 403.5h2M43 404.5h1M328 404.5h12M389 404.5h2M42 405.5h1M340 405.5h8M387 405.5h2M41 406.5h1M348 406.5h6M385 406.5h2M40 407.5h1M354 407.5h6M380 407.5h5M38 408.5h2M360 408.5h5M372 408.5h8M37 409.5h1M365 409.5h7M36 410.5h1M35 411.5h1M34 412.5h1M33 413.5h1M32 414.5h1M31 415.5h1M30 416.5h1M29 417.5h1M28 418.5h1M27 419.5h1M26 420.5h1M25 421.5h1M24 422.5h1M23 423.5h1M22 424.5h1M21 425.5h1M20 426.5h1M19 427.5h1M18 428.5h1M17 429.5h1M16 430.5h1M15 431.5h1M14 432.5h1M12 433.5h2M11 434.5h1M10 435.5h1M9 436.5h1M8 437.5h1M6 438.5h2M5 439.5h1M4 440.5h1M3 441.5h1M1 442.5h2M0 443.5h1" fill="none" stroke="#3aae6e" stroke-width="1" shape-rendering="crispEdges"/>
<path d="M83.5 582v2M91.5 573v2M224.5 539v2M226.5 542v2M228.5 545v2M230.5 548v2M232.5 551v2M234.5 554v2M236.5 557v2M238.5 560v2M384.5 556v2M386.5 559v2M387.5 561v2M389.5 564v2M391.5 567v2M393.5 570v2M395.5 573v2M396.5 575v2M398.5 578v2M400.5 581v2M503.5 580v2M505.5 577v2M508.5 573v2M510.5 570v2M519.5 560v2M529.5 549v2M533.5 544v2M537.5 539v2M541.5 534v2M543.5 531v2M544.5 529v2M545.5 527v2M546.5 525v2M547.5 522v3M548.5 520v2M549.5 518v2M550.5 516v2M551.5 513v3M552.5 511v2M553.5 509v2M554.5 507v2M555.5 504v3M556.5 502v2M557.5 500v2M558.5 498v2M559.5 496v2M560.5 494v2M562.5 491v2M563.5 489v2M565.5 486v2M567.5 483v2M569.5 480v2M571.5 477v2M572.5 475v2M574.5 472v2M576.5 469v2M579.5 465v2M582.5 461v2M584.5 458v2M587.5 454v2M590.5 450v2M592.5 447v2M594.5 444v2M595.5 442v2M597.5 439v2M599.5 436v2M601.5 433v2M603.5 430v2M604.5 428v2M606.5 425v2M819.5 387v2M827.5 396v2M866.5 399v2M871.5 393v2M876.5 387v2M1169.5 443v2M1172.5 447v2M1175.5 451v2M1178.5 455v2M1181.5 459v2M702 366.5h3M700 367.5h2M705 367.5h2M697 368.5h3M707 368.5h2M694 369.5h3M709 369.5h3M760 369.5h26M692 370.5h2M712 370.5h2M733 370.5h27M786 370.5h6M689 371.5h3M714 371.5h2M728 371.5h5M792 371.5h5M687 372.5h2M716 372.5h2M722 372.5h6M797 372.5h3M685 373.5h2M718 373.5h4M800 373.5h2M684 374.5h1M802 374.5h1M682 375.5h2M803 375.5h2M681 376.5h1M805 376.5h1M680 377.5h1M806 377.5h2M678 378.5h2M808 378.5h1M677 379.5h1M809 379.5h1M675 380.5h2M810 380.5h2M674 381.5h1M812 381.5h1M672 382.5h2M813 382.5h2M671 383.5h1M815 383.5h1M909 383.5h4M670 384.5h1M816 384.5h1M879 384.5h5M904 384.5h5M913 384.5h2M669 385.5h1M817 385.5h1M878 385.5h1M884 385.5h8M898 385.5h6M915 385.5h2M668 386.5h1M818 386.5h1M877 386.5h1M892 386.5h6M917 386.5h2M666 387.5h2M919 387.5h2M665 388.5h1M921 388.5h2M664 389.5h1M820 389.5h1M875 389.5h1M923 389.5h2M663 390.5h1M821 390.5h1M874 390.5h1M925 390.5h2M662 391.5h1M822 391.5h1M873 391.5h1M927 391.5h1M661 392.5h1M823 392.5h1M872 392.5h1M928 392.5h1M660 393.5h1M824 393.5h1M929 393.5h1M658 394.5h2M825 394.5h1M930 394.5h1M657 395.5h1M826 395.5h1M870 395.5h1M931 395.5h1M656 396.5h1M869 396.5h1M932 396.5h1M655 397.5h1M868 397.5h1M933 397.5h1M654 398.5h1M828 398.5h1M867 398.5h1M934 398.5h1M652 399.5h2M829 399.5h1M935 399.5h1M651 400.5h1M830 400.5h1M936 400.5h1M1096 400.5h10M650 401.5h1M831 401.5h1M865 401.5h1M937 401.5h1M1085 401.5h11M1106 401.5h4M649 402.5h1M832 402.5h1M864 402.5h1M938 402.5h1M1080 402.5h5M1110 402.5h4M648 403.5h1M833 403.5h2M863 403.5h1M939 403.5h1M1074 403.5h6M1114 403.5h4M646 404.5h2M835 404.5h1M861 404.5h2M940 404.5h1M1068 404.5h6M1118 404.5h3M645 405.5h1M836 405.5h1M860 405.5h1M941 405.5h1M1060 405.5h8M1121 405.5h2M644 406.5h1M837 406.5h1M858 406.5h2M942 406.5h1M1053 406.5h7M1123 406.5h2M643 407.5h1M838 407.5h2M857 407.5h1M943 407.5h2M1004 407.5h24M1048 407.5h5M1125 407.5h2M641 408.5h2M840 408.5h1M856 408.5h1M945 408.5h3M996 408.5h8M1028 408.5h8M1042 408.5h6M1127 408.5h2M640 409.5h1M841 409.5h1M854 409.5h2M948 409.5h4M989 409.5h7M1036 409.5h6M1129 409.5h2M639 410.5h1M842 410.5h1M853 410.5h1M952 410.5h3M984 410.5h5M1131 410.5h2M637 411.5h2M843 411.5h1M851 411.5h2M955 411.5h3M978 411.5h6M1133 411.5h2M635 412.5h2M844 412.5h2M850 412.5h1M958 412.5h20M1135 412.5h1M633 413.5h2M846 413.5h1M848 413.5h2M1136 413.5h1M631 414.5h2M847 414.5h1M1137 414.5h1M629 415.5h2M1138 415.5h2M627 416.5h2M1140 416.5h1M625 417.5h2M1141 417.5h1M622 418.5h3M1142 418.5h1M620 419.5h2M1143 419.5h1M617 420.5h3M1144 420.5h1M614 421.5h3M1145 421.5h1M612 422.5h2M1146 422.5h2M609 423.5h3M1148 423.5h1M607 424.5h2M1149 424.5h1M1150 425.5h1M1151 426.5h1M605 427.5h1M1152 427.5h1M1153 428.5h1M1154 429.5h1M1155 430.5h1M1156 431.5h1M602 432.5h1M1157 432.5h1M1158 433.5h2M1160 434.5h1M600 435.5h1M1161 435.5h1M1162 436.5h1M1163 437.5h1M598 438.5h1M1164 438.5h1M1165 439.5h1M1166 440.5h1M596 441.5h1M1167 441.5h1M1168 442.5h1M1170 445.5h1M593 446.5h1M1171 446.5h1M591 449.5h1M1173 449.5h1M1174 450.5h1M589 452.5h1M588 453.5h1M1176 453.5h1M1177 454.5h1M586 456.5h1M585 457.5h1M1179 457.5h1M1180 458.5h1M583 460.5h1M1182 461.5h1M1183 462.5h1M581 463.5h1M1184 463.5h1M580 464.5h1M1185 464.5h2M1187 465.5h1M1188 466.5h1M578 467.5h1M1189 467.5h1M577 468.5h1M1190 468.5h2M1192 469.5h1M1193 470.5h1M575 471.5h1M1194 471.5h1M1195 472.5h1M1196 473.5h2M573 474.5h1M1198 474.5h1M1199 475.5h3M1202 476.5h6M1208 477.5h5M1213 478.5h4M570 479.5h1M1217 479.5h3M1220 480.5h2M1222 481.5h3M568 482.5h1M1225 482.5h3M1228 483.5h2M1230 484.5h26M566 485.5h1M1256 485.5h25M1281 486.5h2M1283 487.5h2M564 488.5h1M1285 488.5h2M1287 489.5h2M1289 490.5h2M1291 491.5h2M1293 492.5h2M561 493.5h1M1295 493.5h3M1298 494.5h4M1302 495.5h4M1306 496.5h4M1310 497.5h10M1320 498.5h32M1368 498.5h12M1352 499.5h16M1380 499.5h8M1388 500.5h12M1400 501.5h16M1416 502.5h8M158 532.5h3M206 532.5h3M156 533.5h2M161 533.5h3M204 533.5h2M209 533.5h3M542 533.5h1M154 534.5h2M164 534.5h4M201 534.5h3M212 534.5h2M152 535.5h2M168 535.5h3M198 535.5h3M214 535.5h3M149 536.5h3M171 536.5h3M196 536.5h2M217 536.5h3M540 536.5h1M147 537.5h2M174 537.5h10M193 537.5h3M220 537.5h2M539 537.5h1M145 538.5h2M184 538.5h9M222 538.5h2M538 538.5h1M143 539.5h2M141 540.5h2M139 541.5h2M225 541.5h1M536 541.5h1M137 542.5h2M535 542.5h1M136 543.5h1M534 543.5h1M134 544.5h2M227 544.5h1M132 545.5h2M130 546.5h2M532 546.5h1M128 547.5h2M229 547.5h1M531 547.5h1M127 548.5h1M530 548.5h1M125 549.5h2M123 550.5h2M231 550.5h1M366 550.5h3M121 551.5h2M362 551.5h4M369 551.5h3M528 551.5h1M119 552.5h2M358 552.5h4M372 552.5h4M527 552.5h1M117 553.5h2M233 553.5h1M354 553.5h4M376 553.5h3M526 553.5h1M115 554.5h2M350 554.5h4M379 554.5h3M525 554.5h1M113 555.5h2M346 555.5h4M382 555.5h2M524 555.5h1M111 556.5h2M235 556.5h1M342 556.5h4M523 556.5h1M110 557.5h1M338 557.5h4M522 557.5h1M108 558.5h2M328 558.5h10M385 558.5h1M521 558.5h1M107 559.5h1M237 559.5h1M319 559.5h9M520 559.5h1M106 560.5h1M317 560.5h2M105 561.5h1M315 561.5h2M104 562.5h1M239 562.5h1M313 562.5h2M518 562.5h1M102 563.5h2M240 563.5h2M311 563.5h2M388 563.5h1M517 563.5h1M101 564.5h1M242 564.5h1M309 564.5h2M516 564.5h1M100 565.5h1M243 565.5h1M307 565.5h2M515 565.5h1M99 566.5h1M244 566.5h2M305 566.5h2M390 566.5h1M514 566.5h1M97 567.5h2M246 567.5h1M303 567.5h2M513 567.5h1M96 568.5h1M247 568.5h1M302 568.5h1M512 568.5h1M95 569.5h1M248 569.5h2M300 569.5h2M392 569.5h1M511 569.5h1M94 570.5h1M250 570.5h1M299 570.5h1M93 571.5h1M251 571.5h1M298 571.5h1M92 572.5h1M252 572.5h2M296 572.5h2M394 572.5h1M509 572.5h1M254 573.5h1M295 573.5h1M255 574.5h2M294 574.5h1M90 575.5h1M257 575.5h2M292 575.5h2M507 575.5h1M89 576.5h1M259 576.5h2M291 576.5h1M506 576.5h1M88 577.5h1M261 577.5h3M290 577.5h1M397 577.5h1M87 578.5h1M264 578.5h2M288 578.5h2M86 579.5h1M266 579.5h2M284 579.5h4M504 579.5h1M85 580.5h1M268 580.5h2M276 580.5h8M399 580.5h1M84 581.5h1M270 581.5h6M502 582.5h1M401 583.5h1M501 583.5h1" fill="none" stroke="#3aae6e" stroke-width="1" shape-rendering="crispEdges"/>
<g shape-rendering="crispEdges">
<rect x="26" y="281" width="11" height="31" fill="#fff"/>
<rect x="74" y="314" width="11" height="4" fill="#fff"/>
<rect x="138" y="422" width="11" height="14" fill="#fff"/>
<rect x="170" y="432" width="11" height="6" fill="#fff"/>
<rect x="202" y="471" width="11" height="24" fill="#fff"/>
<rect x="250" y="474" width="11" height="77" fill="#fff"/>
<rect x="266" y="460" width="11" height="3" fill="#fff"/>
<rect x="282" y="444" width="11" height="17" fill="#fff"/>
<rect x="298" y="329" width="11" height="116" fill="#fff"/>
<rect x="346" y="328" width="11" height="18" fill="#fff"/>
<rect x="362" y="324" width="11" height="5" fill="#fff"/>
<rect x="378" y="272" width="11" height="54" fill="#fff"/>
<rect x="394" y="161" width="11" height="113" fill="#fff"/>
<rect x="410" y="111" width="11" height="49" fill="#fff"/>
<rect x="458" y="179" width="11" height="5" fill="#fff"/>
<rect x="506" y="227" width="11" height="22" fill="#fff"/>
<rect x="570" y="172" width="11" height="220" fill="#fff"/>
<rect x="602" y="137" width="11" height="189" fill="#fff"/>
<rect x="634" y="140" width="11" height="23" fill="#fff"/>
<rect x="650" y="129" width="11" height="5" fill="#fff"/>
<rect x="682" y="152" width="11" height="5" fill="#fff"/>
<rect x="730" y="203" width="11" height="68" fill="#fff"/>
<rect x="762" y="200" width="11" height="7" fill="#fff"/>
<rect x="858" y="322" width="11" height="40" fill="#fff"/>
<rect x="874" y="272" width="11" height="51" fill="#fff"/>
<rect x="890" y="231" width="11" height="42" fill="#fff"/>
<rect x="938" y="347" width="11" height="3" fill="#fff"/>
<rect x="954" y="328" width="11" height="21" fill="#fff"/>
<rect x="986" y="297" width="11" height="37" fill="#fff"/>
<rect x="1018" y="314" width="11" height="20" fill="#fff"/>
<rect x="1034" y="309" width="11" height="4" fill="#fff"/>
<rect x="1050" y="295" width="11" height="15" fill="#fff"/>
<rect x="1194" y="441" width="11" height="28" fill="#fff"/>
<rect x="1226" y="436" width="11" height="12" fill="#fff"/>
<rect x="1242" y="345" width="11" height="93" fill="#fff"/>
<rect x="1258" y="334" width="11" height="13" fill="#fff"/>
<rect x="1290" y="241" width="11" height="112" fill="#fff"/>
<rect x="1402" y="372" width="11" height="4" fill="#fff"/>
</g>
<text x="1120.1" y="165.8" font-family='"Liberation Sans", "Noto Serif CJK SC", serif' font-weight="600" font-size="32.6" fill="#064a06" opacity="0.85">下行趋势线</text><text x="1119.3" y="165" font-family='"Liberation Sans", "Noto Serif CJK SC", serif' font-weight="600" font-size="32.6" fill="#00ff00">下行趋势线</text>
<text x="1036.8" y="420.8" font-family='"Liberation Sans", "Noto Serif CJK SC", serif' font-weight="600" font-size="32.6" fill="#064a06" opacity="0.85">多空转折点1.29989</text><text x="1036" y="420" font-family='"Liberation Sans", "Noto Serif CJK SC", serif' font-weight="600" font-size="32.6" fill="#00ff00">多空转折点1.29989</text>
<text x="1060.8" y="559.8" font-family='"Liberation Sans", "Noto Serif CJK SC", serif' font-weight="600" font-size="32.6" fill="#064a06" opacity="0.85">低位上行趋势线</text><text x="1060" y="559" font-family='"Liberation Sans", "Noto Serif CJK SC", serif' font-weight="600" font-size="32.6" fill="#00ff00">低位上行趋势线</text>
<g shape-rendering="crispEdges">
<rect x="-1" y="200" width="1" height="50" fill="#000"/>
<rect x="-6" y="204" width="11" height="41" fill="#000"/>
<rect x="15" y="211" width="1" height="121" fill="#000"/>
<rect x="10" y="244" width="11" height="68" fill="#000"/>
<rect x="31" y="256" width="1" height="25" fill="#000"/>
<rect x="31" y="312" width="1" height="22" fill="#000"/>
<rect x="26.5" y="281.5" width="10" height="30" fill="none" stroke="#000" stroke-width="1"/>
<rect x="47" y="244" width="1" height="53" fill="#000"/>
<rect x="42" y="281" width="11" height="7" fill="#000"/>
<rect x="63" y="282" width="1" height="61" fill="#000"/>
<rect x="58" y="288" width="11" height="22" fill="#000"/>
<rect x="79" y="311" width="1" height="3" fill="#000"/>
<rect x="79" y="318" width="1" height="5" fill="#000"/>
<rect x="74.5" y="314.5" width="10" height="3" fill="none" stroke="#000" stroke-width="1"/>
<rect x="95" y="292" width="1" height="65" fill="#000"/>
<rect x="90" y="313" width="11" height="44" fill="#000"/>
<rect x="111" y="335" width="1" height="108" fill="#000"/>
<rect x="106" y="355" width="11" height="61" fill="#000"/>
<rect x="127" y="396" width="1" height="46" fill="#000"/>
<rect x="122" y="415" width="11" height="21" fill="#000"/>
<rect x="143" y="382" width="1" height="40" fill="#000"/>
<rect x="143" y="436" width="1" height="67" fill="#000"/>
<rect x="138.5" y="422.5" width="10" height="13" fill="none" stroke="#000" stroke-width="1"/>
<rect x="159" y="399" width="1" height="47" fill="#000"/>
<rect x="154" y="422" width="11" height="14" fill="#000"/>
<rect x="175" y="432" width="1" height="0" fill="#000"/>
<rect x="175" y="438" width="1" height="3" fill="#000"/>
<rect x="170.5" y="432.5" width="10" height="5" fill="none" stroke="#000" stroke-width="1"/>
<rect x="191" y="430" width="1" height="81" fill="#000"/>
<rect x="186" y="432" width="11" height="63" fill="#000"/>
<rect x="207" y="455" width="1" height="16" fill="#000"/>
<rect x="207" y="495" width="1" height="26" fill="#000"/>
<rect x="202.5" y="471.5" width="10" height="23" fill="none" stroke="#000" stroke-width="1"/>
<rect x="223" y="414" width="1" height="96" fill="#000"/>
<rect x="218" y="470" width="11" height="32" fill="#000"/>
<rect x="239" y="481" width="1" height="90" fill="#000"/>
<rect x="234" y="501" width="11" height="49" fill="#000"/>
<rect x="255" y="466" width="1" height="8" fill="#000"/>
<rect x="255" y="551" width="1" height="10" fill="#000"/>
<rect x="250.5" y="474.5" width="10" height="76" fill="none" stroke="#000" stroke-width="1"/>
<rect x="271" y="458" width="1" height="2" fill="#000"/>
<rect x="271" y="463" width="1" height="1" fill="#000"/>
<rect x="266.5" y="460.5" width="10" height="2" fill="none" stroke="#000" stroke-width="1"/>
<rect x="287" y="430" width="1" height="14" fill="#000"/>
<rect x="287" y="461" width="1" height="10" fill="#000"/>
<rect x="282.5" y="444.5" width="10" height="16" fill="none" stroke="#000" stroke-width="1"/>
<rect x="303" y="317" width="1" height="12" fill="#000"/>
<rect x="303" y="445" width="1" height="23" fill="#000"/>
<rect x="298.5" y="329.5" width="10" height="115" fill="none" stroke="#000" stroke-width="1"/>
<rect x="319" y="287" width="1" height="83" fill="#000"/>
<rect x="314" y="329" width="11" height="14" fill="#000"/>
<rect x="335" y="299" width="1" height="59" fill="#000"/>
<rect x="330" y="342" width="11" height="4" fill="#000"/>
<rect x="351" y="311" width="1" height="17" fill="#000"/>
<rect x="351" y="346" width="1" height="60" fill="#000"/>
<rect x="346.5" y="328.5" width="10" height="17" fill="none" stroke="#000" stroke-width="1"/>
<rect x="367" y="321" width="1" height="3" fill="#000"/>
<rect x="367" y="329" width="1" height="4" fill="#000"/>
<rect x="362.5" y="324.5" width="10" height="4" fill="none" stroke="#000" stroke-width="1"/>
<rect x="383" y="272" width="1" height="0" fill="#000"/>
<rect x="383" y="326" width="1" height="11" fill="#000"/>
<rect x="378.5" y="272.5" width="10" height="53" fill="none" stroke="#000" stroke-width="1"/>
<rect x="399" y="136" width="1" height="25" fill="#000"/>
<rect x="399" y="274" width="1" height="2" fill="#000"/>
<rect x="394.5" y="161.5" width="10" height="112" fill="none" stroke="#000" stroke-width="1"/>
<rect x="415" y="84" width="1" height="27" fill="#000"/>
<rect x="415" y="160" width="1" height="23" fill="#000"/>
<rect x="410.5" y="111.5" width="10" height="48" fill="none" stroke="#000" stroke-width="1"/>
<rect x="431" y="110" width="1" height="56" fill="#000"/>
<rect x="426" y="112" width="11" height="45" fill="#000"/>
<rect x="447" y="137" width="1" height="86" fill="#000"/>
<rect x="442" y="156" width="11" height="64" fill="#000"/>
<rect x="463" y="177" width="1" height="2" fill="#000"/>
<rect x="463" y="184" width="1" height="2" fill="#000"/>
<rect x="458.5" y="179.5" width="10" height="4" fill="none" stroke="#000" stroke-width="1"/>
<rect x="479" y="165" width="1" height="74" fill="#000"/>
<rect x="474" y="179" width="11" height="51" fill="#000"/>
<rect x="495" y="212" width="1" height="85" fill="#000"/>
<rect x="490" y="229" width="11" height="19" fill="#000"/>
<rect x="511" y="224" width="1" height="3" fill="#000"/>
<rect x="511" y="249" width="1" height="26" fill="#000"/>
<rect x="506.5" y="227.5" width="10" height="21" fill="none" stroke="#000" stroke-width="1"/>
<rect x="527" y="223" width="1" height="99" fill="#000"/>
<rect x="522" y="227" width="11" height="77" fill="#000"/>
<rect x="543" y="288" width="1" height="100" fill="#000"/>
<rect x="538" y="303" width="11" height="65" fill="#000"/>
<rect x="559" y="383" width="1" height="12" fill="#000"/>
<rect x="554" y="392" width="11" height="1" fill="#000"/>
<rect x="575" y="136" width="1" height="36" fill="#000"/>
<rect x="575" y="392" width="1" height="21" fill="#000"/>
<rect x="570.5" y="172.5" width="10" height="219" fill="none" stroke="#000" stroke-width="1"/>
<rect x="591" y="172" width="1" height="204" fill="#000"/>
<rect x="586" y="172" width="11" height="154" fill="#000"/>
<rect x="607" y="58" width="1" height="79" fill="#000"/>
<rect x="607" y="326" width="1" height="1" fill="#000"/>
<rect x="602.5" y="137.5" width="10" height="188" fill="none" stroke="#000" stroke-width="1"/>
<rect x="623" y="100" width="1" height="105" fill="#000"/>
<rect x="618" y="136" width="11" height="27" fill="#000"/>
<rect x="639" y="126" width="1" height="14" fill="#000"/>
<rect x="639" y="163" width="1" height="46" fill="#000"/>
<rect x="634.5" y="140.5" width="10" height="22" fill="none" stroke="#000" stroke-width="1"/>
<rect x="655" y="126" width="1" height="3" fill="#000"/>
<rect x="655" y="134" width="1" height="2" fill="#000"/>
<rect x="650.5" y="129.5" width="10" height="4" fill="none" stroke="#000" stroke-width="1"/>
<rect x="671" y="126" width="1" height="98" fill="#000"/>
<rect x="666" y="129" width="11" height="29" fill="#000"/>
<rect x="687" y="117" width="1" height="35" fill="#000"/>
<rect x="687" y="157" width="1" height="20" fill="#000"/>
<rect x="682.5" y="152.5" width="10" height="4" fill="none" stroke="#000" stroke-width="1"/>
<rect x="703" y="152" width="1" height="104" fill="#000"/>
<rect x="698" y="153" width="11" height="55" fill="#000"/>
<rect x="719" y="187" width="1" height="188" fill="#000"/>
<rect x="714" y="206" width="11" height="65" fill="#000"/>
<rect x="735" y="190" width="1" height="13" fill="#000"/>
<rect x="735" y="271" width="1" height="40" fill="#000"/>
<rect x="730.5" y="203.5" width="10" height="67" fill="none" stroke="#000" stroke-width="1"/>
<rect x="751" y="198" width="1" height="9" fill="#000"/>
<rect x="746" y="202" width="11" height="5" fill="#000"/>
<rect x="767" y="171" width="1" height="29" fill="#000"/>
<rect x="767" y="207" width="1" height="38" fill="#000"/>
<rect x="762.5" y="200.5" width="10" height="6" fill="none" stroke="#000" stroke-width="1"/>
<rect x="783" y="158" width="1" height="89" fill="#000"/>
<rect x="778" y="200" width="11" height="3" fill="#000"/>
<rect x="799" y="152" width="1" height="108" fill="#000"/>
<rect x="794" y="203" width="11" height="49" fill="#000"/>
<rect x="815" y="211" width="1" height="140" fill="#000"/>
<rect x="810" y="251" width="11" height="84" fill="#000"/>
<rect x="831" y="265" width="1" height="134" fill="#000"/>
<rect x="826" y="334" width="11" height="43" fill="#000"/>
<rect x="847" y="355" width="1" height="11" fill="#000"/>
<rect x="842" y="360" width="11" height="3" fill="#000"/>
<rect x="863" y="253" width="1" height="69" fill="#000"/>
<rect x="863" y="362" width="1" height="10" fill="#000"/>
<rect x="858.5" y="322.5" width="10" height="39" fill="none" stroke="#000" stroke-width="1"/>
<rect x="879" y="253" width="1" height="19" fill="#000"/>
<rect x="879" y="323" width="1" height="45" fill="#000"/>
<rect x="874.5" y="272.5" width="10" height="50" fill="none" stroke="#000" stroke-width="1"/>
<rect x="895" y="214" width="1" height="17" fill="#000"/>
<rect x="895" y="273" width="1" height="5" fill="#000"/>
<rect x="890.5" y="231.5" width="10" height="41" fill="none" stroke="#000" stroke-width="1"/>
<rect x="911" y="218" width="1" height="111" fill="#000"/>
<rect x="906" y="230" width="11" height="88" fill="#000"/>
<rect x="927" y="276" width="1" height="115" fill="#000"/>
<rect x="922" y="317" width="11" height="38" fill="#000"/>
<rect x="943" y="347" width="1" height="0" fill="#000"/>
<rect x="943" y="350" width="1" height="2" fill="#000"/>
<rect x="938.5" y="347.5" width="10" height="2" fill="none" stroke="#000" stroke-width="1"/>
<rect x="959" y="316" width="1" height="12" fill="#000"/>
<rect x="959" y="349" width="1" height="3" fill="#000"/>
<rect x="954.5" y="328.5" width="10" height="20" fill="none" stroke="#000" stroke-width="1"/>
<rect x="975" y="276" width="1" height="78" fill="#000"/>
<rect x="970" y="327" width="11" height="7" fill="#000"/>
<rect x="991" y="278" width="1" height="19" fill="#000"/>
<rect x="991" y="334" width="1" height="5" fill="#000"/>
<rect x="986.5" y="297.5" width="10" height="36" fill="none" stroke="#000" stroke-width="1"/>
<rect x="1007" y="287" width="1" height="51" fill="#000"/>
<rect x="1002" y="298" width="11" height="36" fill="#000"/>
<rect x="1023" y="267" width="1" height="47" fill="#000"/>
<rect x="1023" y="334" width="1" height="3" fill="#000"/>
<rect x="1018.5" y="314.5" width="10" height="19" fill="none" stroke="#000" stroke-width="1"/>
<rect x="1039" y="308" width="1" height="1" fill="#000"/>
<rect x="1039" y="313" width="1" height="1" fill="#000"/>
<rect x="1034.5" y="309.5" width="10" height="3" fill="none" stroke="#000" stroke-width="1"/>
<rect x="1055" y="279" width="1" height="16" fill="#000"/>
<rect x="1055" y="310" width="1" height="3" fill="#000"/>
<rect x="1050.5" y="295.5" width="10" height="14" fill="none" stroke="#000" stroke-width="1"/>
<rect x="1071" y="294" width="1" height="53" fill="#000"/>
<rect x="1066" y="295" width="11" height="48" fill="#000"/>
<rect x="1087" y="322" width="1" height="34" fill="#000"/>
<rect x="1082" y="342" width="11" height="6" fill="#000"/>
<rect x="1103" y="335" width="1" height="63" fill="#000"/>
<rect x="1098" y="347" width="11" height="48" fill="#000"/>
<rect x="1119" y="382" width="1" height="5" fill="#000"/>
<rect x="1114" y="384" width="11" height="2" fill="#000"/>
<rect x="1135" y="379" width="1" height="20" fill="#000"/>
<rect x="1130" y="386" width="11" height="10" fill="#000"/>
<rect x="1151" y="363" width="1" height="77" fill="#000"/>
<rect x="1146" y="396" width="11" height="37" fill="#000"/>
<rect x="1167" y="410" width="1" height="63" fill="#000"/>
<rect x="1162" y="432" width="11" height="29" fill="#000"/>
<rect x="1183" y="449" width="1" height="44" fill="#000"/>
<rect x="1178" y="461" width="11" height="8" fill="#000"/>
<rect x="1199" y="426" width="1" height="15" fill="#000"/>
<rect x="1199" y="469" width="1" height="16" fill="#000"/>
<rect x="1194.5" y="441.5" width="10" height="27" fill="none" stroke="#000" stroke-width="1"/>
<rect x="1215" y="445" width="1" height="5" fill="#000"/>
<rect x="1210" y="445" width="11" height="3" fill="#000"/>
<rect x="1231" y="424" width="1" height="12" fill="#000"/>
<rect x="1231" y="448" width="1" height="12" fill="#000"/>
<rect x="1226.5" y="436.5" width="10" height="11" fill="none" stroke="#000" stroke-width="1"/>
<rect x="1247" y="338" width="1" height="7" fill="#000"/>
<rect x="1247" y="438" width="1" height="4" fill="#000"/>
<rect x="1242.5" y="345.5" width="10" height="92" fill="none" stroke="#000" stroke-width="1"/>
<rect x="1263" y="293" width="1" height="41" fill="#000"/>
<rect x="1263" y="347" width="1" height="4" fill="#000"/>
<rect x="1258.5" y="334.5" width="10" height="12" fill="none" stroke="#000" stroke-width="1"/>
<rect x="1279" y="311" width="1" height="53" fill="#000"/>
<rect x="1274" y="334" width="11" height="19" fill="#000"/>
<rect x="1295" y="229" width="1" height="12" fill="#000"/>
<rect x="1295" y="353" width="1" height="37" fill="#000"/>
<rect x="1290.5" y="241.5" width="10" height="111" fill="none" stroke="#000" stroke-width="1"/>
<rect x="1311" y="235" width="1" height="19" fill="#000"/>
<rect x="1306" y="238" width="11" height="15" fill="#000"/>
<rect x="1327" y="252" width="1" height="59" fill="#000"/>
<rect x="1322" y="252" width="11" height="46" fill="#000"/>
<rect x="1343" y="268" width="1" height="78" fill="#000"/>
<rect x="1338" y="297" width="11" height="26" fill="#000"/>
<rect x="1359" y="311" width="1" height="79" fill="#000"/>
<rect x="1354" y="322" width="11" height="53" fill="#000"/>
<rect x="1375" y="349" width="1" height="58" fill="#000"/>
<rect x="1370" y="371" width="11" height="1" fill="#000"/>
<rect x="1391" y="339" width="1" height="47" fill="#000"/>
<rect x="1386" y="372" width="11" height="4" fill="#000"/>
<rect x="1407" y="369" width="1" height="3" fill="#000"/>
<rect x="1407" y="376" width="1" height="4" fill="#000"/>
<rect x="1402.5" y="372.5" width="10" height="3" fill="none" stroke="#000" stroke-width="1"/>
<rect x="1423" y="344" width="1" height="85" fill="#000"/>
<rect x="1418" y="372" width="11" height="45" fill="#000"/>
<rect x="1340" y="372" width="99" height="16" fill="#00ff00"/>
</g>
<path d="M1457 32 L1467.5 32 L1462.25 37.2 Z" fill="#b4b4b4"/>
</g>
<path d="M2 42 L9 42 L5.5 38 Z" fill="#000"/>
<text x="14" y="42.4" font-size="9.33" fill="#000" stroke="#000" stroke-width="0.18">GBPUSD-,Daily  1.30066 1.30397 1.29401 1.29544</text>
<g id="oct">
<rect x="2" y="51" width="52" height="24" fill="url(#gb)"/>
<rect x="169" y="51" width="52" height="24" fill="url(#gb)"/>
<defs><linearGradient id="gb2" x1="0" y1="0" x2="0" y2="1"><stop offset="0" stop-color="#2828e4"/><stop offset="1" stop-color="#0000b0"/></linearGradient></defs>
<rect x="2" y="75" width="109" height="40" fill="url(#gb2)"/>
<rect x="113" y="75" width="108" height="40" fill="url(#gb2)"/>
<rect x="6" y="74" width="44" height="1" fill="#6a6af0" />
<rect x="173" y="74" width="44" height="1" fill="#6a6af0" />
<rect x="56.5" y="51.5" width="110" height="21" fill="#ffffff" stroke="#a0a0a0" stroke-width="1"/>
<rect x="57" y="52" width="20" height="20" fill="#e4e4e4"/>
<rect x="146" y="52" width="20" height="20" fill="#e4e4e4"/>
<rect x="77" y="52" width="1" height="20" fill="#b0b0b0"/>
<rect x="145" y="52" width="1" height="20" fill="#b0b0b0"/>
<path d="M63.5 60.5 L69.5 60.5 L66.5 64 Z" fill="#000"/>
<path d="M152.5 64 L158.5 64 L155.5 60.5 Z" fill="#000"/>
<text x="142" y="66.5" font-size="12.5" text-anchor="end" fill="#000">1.00</text>
<text x="27.5" y="67" font-size="11" text-anchor="middle" fill="#fff">SELL</text>
<text x="194.5" y="67" font-size="11" text-anchor="middle" fill="#fff">BUY</text>
<text x="23" y="106" font-size="12" font-weight="700" fill="#fff">1.29</text>
<text x="50.5" y="106.5" font-size="34" fill="#fff" textLength="33.5" lengthAdjust="spacingAndGlyphs">54</text>
<text x="89" y="90" font-size="12" font-weight="700" fill="#fff">4</text>
<text x="133" y="106" font-size="12" font-weight="700" fill="#fff">1.29</text>
<text x="161" y="106.5" font-size="34" fill="#fff" textLength="31.5" lengthAdjust="spacingAndGlyphs">57</text>
<text x="200.5" y="90" font-size="12" font-weight="700" fill="#fff">1</text>
</g>
<g id="paxis" font-size="9.2" fill="#000" stroke="#000" stroke-width="0.18">
<rect x="1628" y="53" width="2" height="1" fill="#000" />
<text x="1633" y="56.8">1.33860</text>
<rect x="1628" y="86" width="2" height="1" fill="#000" />
<text x="1633" y="89.8">1.33460</text>
<rect x="1628" y="119" width="2" height="1" fill="#000" />
<text x="1633" y="122.8">1.33070</text>
<rect x="1628" y="152" width="2" height="1" fill="#000" />
<text x="1633" y="155.8">1.32680</text>
<rect x="1628" y="185" width="2" height="1" fill="#000" />
<text x="1633" y="188.8">1.32290</text>
<rect x="1628" y="218" width="2" height="1" fill="#000" />
<text x="1633" y="221.8">1.31900</text>
<rect x="1628" y="251" width="2" height="1" fill="#000" />
<text x="1633" y="254.8">1.31510</text>
<rect x="1628" y="284" width="2" height="1" fill="#000" />
<text x="1633" y="287.8">1.31110</text>
<rect x="1628" y="317" width="2" height="1" fill="#000" />
<text x="1633" y="320.8">1.30720</text>
<rect x="1628" y="350" width="2" height="1" fill="#000" />
<text x="1633" y="353.8">1.30330</text>
<rect x="1628" y="383" width="2" height="1" fill="#000" />
<text x="1633" y="386.8">1.29940</text>
<rect x="1628" y="416" width="2" height="1" fill="#000" />
<text x="1633" y="419.8">1.29550</text>
<rect x="1628" y="449" width="2" height="1" fill="#000" />
<text x="1633" y="452.8">1.29160</text>
<rect x="1628" y="482" width="2" height="1" fill="#000" />
<text x="1633" y="485.8">1.28760</text>
<rect x="1628" y="515" width="2" height="1" fill="#000" />
<text x="1633" y="518.8">1.28370</text>
<rect x="1628" y="548" width="2" height="1" fill="#000" />
<text x="1633" y="551.8">1.27980</text>
<rect x="1628" y="581" width="2" height="1" fill="#000" />
<text x="1633" y="584.8">1.27590</text>
<rect x="1629" y="301" width="41" height="11" fill="#ff0000"/><text x="1633" y="309.8" fill="#fff" stroke="#fff">1.30842</text>
<rect x="1629" y="335" width="41" height="11" fill="#ff0000"/><text x="1633" y="343.8" fill="#fff" stroke="#fff">1.30439</text>
<rect x="1629" y="373" width="41" height="11" fill="#32cd32"/><text x="1633" y="381.8" fill="#fff" stroke="#fff">1.29989</text>
<rect x="1629" y="411" width="41" height="11" fill="#000000"/><text x="1633" y="419.8" fill="#fff" stroke="#fff">1.29544</text>
<rect x="1629" y="443" width="41" height="11" fill="#0000ff"/><text x="1633" y="451.8" fill="#fff" stroke="#fff">1.29160</text>
<rect x="1629" y="475" width="41" height="11" fill="#0000ff"/><text x="1633" y="483.8" fill="#fff" stroke="#fff">1.28780</text>
</g>
<g id="macd" clip-path="url(#cmacd)">
<g shape-rendering="crispEdges">
<rect x="14" y="600" width="2" height="108" fill="#b9b9b9"/>
<rect x="30" y="602" width="2" height="106" fill="#b9b9b9"/>
<rect x="46" y="606" width="2" height="102" fill="#b9b9b9"/>
<rect x="62" y="611" width="2" height="97" fill="#b9b9b9"/>
<rect x="78" y="618" width="2" height="90" fill="#b9b9b9"/>
<rect x="94" y="627" width="2" height="81" fill="#b9b9b9"/>
<rect x="110" y="642" width="2" height="66" fill="#b9b9b9"/>
<rect x="126" y="655" width="2" height="53" fill="#b9b9b9"/>
<rect x="142" y="665" width="2" height="43" fill="#b9b9b9"/>
<rect x="158" y="675" width="2" height="33" fill="#b9b9b9"/>
<rect x="174" y="683" width="2" height="25" fill="#b9b9b9"/>
<rect x="190" y="695" width="2" height="13" fill="#b9b9b9"/>
<rect x="206" y="702" width="2" height="6" fill="#b9b9b9"/>
<rect x="222" y="708" width="2" height="4" fill="#b9b9b9"/>
<rect x="238" y="708" width="2" height="15" fill="#b9b9b9"/>
<rect x="254" y="708" width="2" height="17" fill="#b9b9b9"/>
<rect x="270" y="708" width="2" height="17" fill="#b9b9b9"/>
<rect x="286" y="708" width="2" height="15" fill="#b9b9b9"/>
<rect x="302" y="708" width="2" height="2" fill="#b9b9b9"/>
<rect x="318" y="701" width="2" height="7" fill="#b9b9b9"/>
<rect x="334" y="695" width="2" height="13" fill="#b9b9b9"/>
<rect x="350" y="688" width="2" height="20" fill="#b9b9b9"/>
<rect x="366" y="683" width="2" height="25" fill="#b9b9b9"/>
<rect x="382" y="675" width="2" height="33" fill="#b9b9b9"/>
<rect x="398" y="658" width="2" height="50" fill="#b9b9b9"/>
<rect x="414" y="640" width="2" height="68" fill="#b9b9b9"/>
<rect x="430" y="632" width="2" height="76" fill="#b9b9b9"/>
<rect x="446" y="632" width="2" height="76" fill="#b9b9b9"/>
<rect x="462" y="629" width="2" height="79" fill="#b9b9b9"/>
<rect x="478" y="633" width="2" height="75" fill="#b9b9b9"/>
<rect x="494" y="638" width="2" height="70" fill="#b9b9b9"/>
<rect x="510" y="642" width="2" height="66" fill="#b9b9b9"/>
<rect x="526" y="651" width="2" height="57" fill="#b9b9b9"/>
<rect x="542" y="666" width="2" height="42" fill="#b9b9b9"/>
<rect x="558" y="680" width="2" height="28" fill="#b9b9b9"/>
<rect x="574" y="671" width="2" height="37" fill="#b9b9b9"/>
<rect x="590" y="679" width="2" height="29" fill="#b9b9b9"/>
<rect x="606" y="667" width="2" height="41" fill="#b9b9b9"/>
<rect x="622" y="661" width="2" height="47" fill="#b9b9b9"/>
<rect x="638" y="655" width="2" height="53" fill="#b9b9b9"/>
<rect x="654" y="650" width="2" height="58" fill="#b9b9b9"/>
<rect x="670" y="649" width="2" height="59" fill="#b9b9b9"/>
<rect x="686" y="648" width="2" height="60" fill="#b9b9b9"/>
<rect x="702" y="654" width="2" height="54" fill="#b9b9b9"/>
<rect x="718" y="665" width="2" height="43" fill="#b9b9b9"/>
<rect x="734" y="667" width="2" height="41" fill="#b9b9b9"/>
<rect x="750" y="670" width="2" height="38" fill="#b9b9b9"/>
<rect x="766" y="672" width="2" height="36" fill="#b9b9b9"/>
<rect x="782" y="675" width="2" height="33" fill="#b9b9b9"/>
<rect x="798" y="681" width="2" height="27" fill="#b9b9b9"/>
<rect x="814" y="695" width="2" height="13" fill="#b9b9b9"/>
<rect x="830" y="708" width="2" height="1" fill="#b9b9b9"/>
<rect x="846" y="708" width="2" height="11" fill="#b9b9b9"/>
<rect x="862" y="708" width="2" height="16" fill="#b9b9b9"/>
<rect x="878" y="708" width="2" height="14" fill="#b9b9b9"/>
<rect x="894" y="708" width="2" height="9" fill="#b9b9b9"/>
<rect x="910" y="708" width="2" height="12" fill="#b9b9b9"/>
<rect x="926" y="708" width="2" height="18" fill="#b9b9b9"/>
<rect x="942" y="708" width="2" height="24" fill="#b9b9b9"/>
<rect x="958" y="708" width="2" height="24" fill="#b9b9b9"/>
<rect x="974" y="708" width="2" height="26" fill="#b9b9b9"/>
<rect x="990" y="708" width="2" height="22" fill="#b9b9b9"/>
<rect x="1006" y="708" width="2" height="24" fill="#b9b9b9"/>
<rect x="1022" y="708" width="2" height="22" fill="#b9b9b9"/>
<rect x="1038" y="708" width="2" height="21" fill="#b9b9b9"/>
<rect x="1054" y="708" width="2" height="18" fill="#b9b9b9"/>
<rect x="1070" y="708" width="2" height="20" fill="#b9b9b9"/>
<rect x="1086" y="708" width="2" height="22" fill="#b9b9b9"/>
<rect x="1102" y="708" width="2" height="26" fill="#b9b9b9"/>
<rect x="1118" y="708" width="2" height="31" fill="#b9b9b9"/>
<rect x="1134" y="708" width="2" height="33" fill="#b9b9b9"/>
<rect x="1150" y="708" width="2" height="38" fill="#b9b9b9"/>
<rect x="1166" y="708" width="2" height="45" fill="#b9b9b9"/>
<rect x="1182" y="708" width="2" height="51" fill="#b9b9b9"/>
<rect x="1198" y="708" width="2" height="51" fill="#b9b9b9"/>
<rect x="1214" y="708" width="2" height="53" fill="#b9b9b9"/>
<rect x="1230" y="708" width="2" height="52" fill="#b9b9b9"/>
<rect x="1246" y="708" width="2" height="41" fill="#b9b9b9"/>
<rect x="1262" y="708" width="2" height="33" fill="#b9b9b9"/>
<rect x="1278" y="708" width="2" height="27" fill="#b9b9b9"/>
<rect x="1294" y="708" width="2" height="12" fill="#b9b9b9"/>
<rect x="1310" y="708" width="2" height="1" fill="#b9b9b9"/>
<rect x="1326" y="703" width="2" height="5" fill="#b9b9b9"/>
<rect x="1342" y="702" width="2" height="6" fill="#b9b9b9"/>
<rect x="1358" y="706" width="2" height="2" fill="#b9b9b9"/>
<rect x="1374" y="707" width="2" height="1" fill="#b9b9b9"/>
<rect x="1390" y="708" width="2" height="5" fill="#b9b9b9"/>
<rect x="1406" y="708" width="2" height="6" fill="#b9b9b9"/>
<rect x="1422" y="708" width="2" height="12" fill="#b9b9b9"/>
</g>
<path d="M77 608.5h3M83 608.5h3M89 608.5h3M95 608.5h3M72 609.5h2M101 609.5h3M66 610.5h2M71 610.5h1M107 610.5h2M61 611.5h1M65 611.5h1M109 611.5h1M59 612.5h2M113 612.5h2M53 613.5h3M115 613.5h1M47 614.5h3M119 614.5h1M120 615.5h2M41 616.5h3M125 617.5h1M36 618.5h2M126 618.5h2M35 619.5h1M30 620.5h2M131 620.5h2M29 621.5h1M133 621.5h1M25 622.5h1M137 622.5h1M23 623.5h2M138 623.5h2M17 625.5h3M143 625.5h2M145 626.5h1M12 627.5h2M11 628.5h1M149 628.5h2M151 629.5h1M5 630.5h3M155 631.5h2M1 632.5h1M157 632.5h1M0 633.5h1M161 634.5h1M162 635.5h2M167 637.5h1M168 638.5h1M169 639.5h1M527 640.5h3M533 640.5h3M539 640.5h3M173 641.5h2M516 641.5h2M521 641.5h3M545 641.5h3M175 642.5h1M510 642.5h2M515 642.5h1M551 642.5h1M509 643.5h1M552 643.5h2M179 644.5h1M505 644.5h1M557 644.5h1M180 645.5h1M503 645.5h2M558 645.5h2M563 645.5h1M181 646.5h1M564 646.5h2M569 646.5h3M497 647.5h3M575 647.5h2M185 648.5h1M577 648.5h1M186 649.5h2M491 649.5h3M581 649.5h3M485 651.5h3M587 651.5h3M191 652.5h1M481 652.5h1M593 652.5h1M192 653.5h2M479 653.5h2M594 653.5h2M599 654.5h3M474 655.5h2M605 655.5h1M197 656.5h2M473 656.5h1M606 656.5h2M199 657.5h1M469 657.5h1M611 657.5h1M732 657.5h2M737 657.5h3M743 657.5h1M467 658.5h2M612 658.5h2M725 658.5h3M731 658.5h1M744 658.5h2M749 658.5h3M755 658.5h3M203 659.5h1M713 659.5h3M719 659.5h3M761 659.5h3M767 659.5h3M204 660.5h1M463 660.5h1M617 660.5h3M701 660.5h3M707 660.5h3M773 660.5h3M779 660.5h1M205 661.5h1M461 661.5h2M695 661.5h3M780 661.5h2M785 661.5h1M623 662.5h3M629 662.5h3M684 662.5h2M689 662.5h3M786 662.5h2M209 663.5h1M457 663.5h1M635 663.5h3M641 663.5h3M647 663.5h1M677 663.5h3M683 663.5h1M791 663.5h3M210 664.5h2M455 664.5h2M648 664.5h2M653 664.5h3M659 664.5h3M665 664.5h3M671 664.5h3M797 664.5h1M798 665.5h2M451 666.5h1M803 666.5h1M215 667.5h1M449 667.5h2M804 667.5h2M216 668.5h2M445 669.5h1M809 669.5h3M443 670.5h2M221 671.5h2M815 671.5h2M223 672.5h1M817 672.5h1M438 673.5h2M821 673.5h1M227 674.5h1M437 674.5h1M822 674.5h2M228 675.5h1M827 675.5h1M229 676.5h1M432 676.5h2M828 676.5h2M431 677.5h1M233 678.5h1M833 678.5h2M234 679.5h2M835 679.5h1M426 680.5h2M839 680.5h1M425 681.5h1M840 681.5h2M239 682.5h1M240 683.5h2M421 683.5h1M845 683.5h1M420 684.5h1M846 684.5h2M419 685.5h1M851 685.5h1M245 686.5h2M852 686.5h2M247 687.5h1M415 687.5h1M413 688.5h2M857 688.5h3M251 689.5h1M252 690.5h1M409 690.5h1M863 690.5h2M253 691.5h1M408 691.5h1M865 691.5h1M407 692.5h1M869 692.5h1M257 693.5h2M870 693.5h2M259 694.5h1M402 694.5h2M875 694.5h1M401 695.5h1M876 695.5h2M263 696.5h2M265 697.5h1M396 697.5h2M881 697.5h3M395 698.5h1M887 698.5h1M269 699.5h2M888 699.5h2M271 700.5h1M389 700.5h3M893 700.5h1M275 701.5h1M894 701.5h2M276 702.5h2M385 702.5h1M899 702.5h1M281 703.5h2M383 703.5h2M900 703.5h2M283 704.5h1M379 704.5h1M287 705.5h2M377 705.5h2M905 705.5h3M289 706.5h1M372 706.5h2M293 707.5h3M371 707.5h1M911 707.5h2M365 708.5h3M913 708.5h1M299 709.5h3M359 709.5h3M917 709.5h1M305 710.5h3M348 710.5h2M353 710.5h3M918 710.5h2M1421 710.5h3M311 711.5h3M341 711.5h3M347 711.5h1M923 711.5h1M1416 711.5h2M317 712.5h3M323 712.5h3M329 712.5h3M335 712.5h3M924 712.5h2M1410 712.5h2M1415 712.5h1M1405 713.5h1M1409 713.5h1M929 714.5h3M1403 714.5h2M935 715.5h1M1397 715.5h3M936 716.5h2M1391 716.5h3M941 717.5h1M1386 717.5h2M942 718.5h2M1385 718.5h1M947 719.5h3M1379 719.5h3M953 720.5h1M1374 720.5h2M954 721.5h2M1373 721.5h1M959 722.5h3M1369 722.5h1M965 723.5h3M1367 723.5h2M971 724.5h2M973 725.5h1M977 725.5h3M983 725.5h1M1361 725.5h3M984 726.5h2M989 726.5h3M995 726.5h3M1001 727.5h3M1007 727.5h3M1013 727.5h3M1356 727.5h2M1019 728.5h3M1025 728.5h3M1031 728.5h1M1355 728.5h1M1032 729.5h2M1037 729.5h3M1043 729.5h3M1350 729.5h2M1049 730.5h3M1055 730.5h3M1061 730.5h3M1067 730.5h3M1073 730.5h3M1079 730.5h3M1085 730.5h3M1091 730.5h3M1097 730.5h3M1103 730.5h3M1109 730.5h3M1115 730.5h3M1121 730.5h3M1127 730.5h1M1349 730.5h1M1128 731.5h2M1133 731.5h3M1139 731.5h1M1345 731.5h1M1140 732.5h2M1145 732.5h3M1343 732.5h2M1151 733.5h3M1339 733.5h1M1157 734.5h3M1337 734.5h2M1163 735.5h2M1332 735.5h2M1165 736.5h1M1169 736.5h1M1331 736.5h1M1170 737.5h2M1175 737.5h1M1327 737.5h1M1176 738.5h2M1325 738.5h2M1181 739.5h3M1187 740.5h3M1321 740.5h1M1193 741.5h1M1319 741.5h2M1194 742.5h2M1199 743.5h3M1315 743.5h1M1205 744.5h3M1313 744.5h2M1211 745.5h2M1213 746.5h1M1217 746.5h1M1307 746.5h3M1218 747.5h2M1302 747.5h2M1223 748.5h3M1301 748.5h1M1229 749.5h1M1295 749.5h3M1230 750.5h2M1235 750.5h1M1284 750.5h2M1289 750.5h3M1236 751.5h2M1241 751.5h3M1272 751.5h2M1277 751.5h3M1283 751.5h1M1247 752.5h3M1253 752.5h3M1259 752.5h3M1265 752.5h3M1271 752.5h1" fill="none" stroke="#ff0000" stroke-width="1" shape-rendering="crispEdges"/>
</g>
<text x="3" y="598.7" font-size="9.33" fill="#000" stroke="#000" stroke-width="0.18">MACD(12,26,9) -0.001078 -0.000188</text>
<g font-size="9.2" fill="#000" stroke="#000" stroke-width="0.18">
<rect x="1628" y="588" width="1" height="1" fill="#000" />
<text x="1631" y="596.5">0.012157</text>
<rect x="1628" y="708" width="1" height="1" fill="#000" />
<text x="1631" y="711.0">0.00</text>
<rect x="1628" y="768" width="1" height="1" fill="#000" />
<text x="1631" y="765.5">-0.006064</text>
</g>
<g id="rsi" clip-path="url(#crsi)">
<line x1="0" y1="804.5" x2="1627" y2="804.5" stroke="#c0c0c0" stroke-width="1" stroke-dasharray="3 3" shape-rendering="crispEdges"/>
<line x1="0" y1="851.5" x2="1627" y2="851.5" stroke="#c0c0c0" stroke-width="1" stroke-dasharray="3 3" shape-rendering="crispEdges"/>
<line x1="0" y1="907.5" x2="1627" y2="907.5" stroke="#c0c0c0" stroke-width="1" stroke-dasharray="3 3" shape-rendering="crispEdges"/>
<path d="M560.5 860v2M562.5 857v2M563.5 855v2M565.5 852v2M567.5 849v2M569.5 846v2M571.5 843v2M572.5 841v2M574.5 838v2M1233.5 865v2M1237.5 860v2M1241.5 855v2M1245.5 850v2M1282.5 847v2M1287.5 841v2M1292.5 835v2M414 814.5h2M410 815.5h4M416 815.5h2M406 816.5h4M418 816.5h2M402 817.5h4M420 817.5h2M399 818.5h3M422 818.5h2M397 819.5h2M424 819.5h1M396 820.5h1M425 820.5h2M394 821.5h2M427 821.5h2M392 822.5h2M429 822.5h2M391 823.5h1M431 823.5h1M389 824.5h2M432 824.5h2M0 825.5h2M388 825.5h1M434 825.5h1M2 826.5h1M386 826.5h2M435 826.5h2M3 827.5h2M384 827.5h2M437 827.5h1M5 828.5h1M383 828.5h1M438 828.5h2M6 829.5h2M381 829.5h2M440 829.5h1M8 830.5h1M379 830.5h2M441 830.5h1M462 830.5h2M9 831.5h1M377 831.5h2M442 831.5h2M458 831.5h4M464 831.5h2M10 832.5h2M29 832.5h7M375 832.5h2M444 832.5h1M454 832.5h4M466 832.5h2M1295 832.5h5M12 833.5h1M24 833.5h5M36 833.5h8M373 833.5h2M445 833.5h2M450 833.5h4M468 833.5h1M1294 833.5h1M1300 833.5h8M13 834.5h2M18 834.5h6M44 834.5h8M371 834.5h2M447 834.5h3M469 834.5h2M1293 834.5h1M1308 834.5h4M15 835.5h3M52 835.5h8M369 835.5h2M471 835.5h1M1312 835.5h2M60 836.5h12M303 836.5h5M364 836.5h5M472 836.5h2M1314 836.5h2M72 837.5h9M302 837.5h1M308 837.5h8M356 837.5h8M474 837.5h2M575 837.5h1M1291 837.5h1M1316 837.5h2M81 838.5h2M301 838.5h1M316 838.5h8M348 838.5h8M476 838.5h1M576 838.5h1M607 838.5h5M648 838.5h10M1290 838.5h1M1318 838.5h2M83 839.5h2M300 839.5h1M324 839.5h8M340 839.5h8M477 839.5h2M577 839.5h1M606 839.5h1M612 839.5h8M632 839.5h16M658 839.5h6M1289 839.5h1M1320 839.5h1M85 840.5h3M299 840.5h1M332 840.5h8M479 840.5h5M508 840.5h4M573 840.5h1M578 840.5h1M605 840.5h1M620 840.5h12M664 840.5h5M1288 840.5h1M1321 840.5h2M88 841.5h2M298 841.5h1M484 841.5h8M500 841.5h8M512 841.5h2M579 841.5h1M604 841.5h1M669 841.5h20M1323 841.5h2M90 842.5h2M297 842.5h1M492 842.5h8M514 842.5h1M580 842.5h1M603 842.5h1M689 842.5h3M1325 842.5h2M92 843.5h2M296 843.5h1M515 843.5h2M581 843.5h1M602 843.5h1M692 843.5h2M1286 843.5h1M1327 843.5h2M94 844.5h2M295 844.5h1M517 844.5h1M582 844.5h1M601 844.5h1M694 844.5h3M1285 844.5h1M1329 844.5h3M96 845.5h2M294 845.5h1M518 845.5h2M570 845.5h1M583 845.5h1M600 845.5h1M697 845.5h3M1284 845.5h1M1332 845.5h2M98 846.5h2M293 846.5h1M520 846.5h1M584 846.5h1M598 846.5h2M700 846.5h2M1260 846.5h5M1283 846.5h1M1334 846.5h3M100 847.5h2M292 847.5h1M521 847.5h1M585 847.5h1M597 847.5h1M702 847.5h3M734 847.5h51M894 847.5h2M1252 847.5h8M1265 847.5h3M1337 847.5h3M102 848.5h2M291 848.5h1M522 848.5h2M568 848.5h1M586 848.5h1M596 848.5h1M705 848.5h2M732 848.5h2M785 848.5h2M891 848.5h3M896 848.5h2M1247 848.5h5M1268 848.5h4M1340 848.5h2M104 849.5h1M290 849.5h1M524 849.5h1M587 849.5h1M595 849.5h1M707 849.5h2M730 849.5h2M787 849.5h2M888 849.5h3M898 849.5h1M1246 849.5h1M1272 849.5h3M1281 849.5h1M1342 849.5h3M105 850.5h2M289 850.5h1M525 850.5h2M588 850.5h1M594 850.5h1M709 850.5h3M728 850.5h2M789 850.5h3M884 850.5h4M899 850.5h2M1275 850.5h3M1280 850.5h1M1345 850.5h2M107 851.5h2M288 851.5h1M527 851.5h1M566 851.5h1M589 851.5h1M593 851.5h1M712 851.5h2M725 851.5h3M792 851.5h2M881 851.5h3M901 851.5h1M1278 851.5h2M1347 851.5h2M109 852.5h2M285 852.5h3M528 852.5h2M590 852.5h1M592 852.5h1M714 852.5h2M723 852.5h2M794 852.5h2M879 852.5h2M902 852.5h2M1052 852.5h5M1244 852.5h1M1349 852.5h2M111 853.5h3M280 853.5h5M530 853.5h2M591 853.5h1M716 853.5h2M721 853.5h2M796 853.5h2M877 853.5h2M904 853.5h1M990 853.5h3M1044 853.5h8M1057 853.5h2M1243 853.5h1M1351 853.5h2M114 854.5h4M141 854.5h7M274 854.5h6M532 854.5h2M564 854.5h1M718 854.5h3M798 854.5h2M875 854.5h2M905 854.5h1M988 854.5h2M993 854.5h3M1036 854.5h8M1059 854.5h2M1242 854.5h1M1353 854.5h2M118 855.5h4M136 855.5h5M148 855.5h8M268 855.5h6M534 855.5h2M800 855.5h2M873 855.5h2M906 855.5h2M986 855.5h2M996 855.5h4M1028 855.5h8M1061 855.5h3M1355 855.5h2M122 856.5h4M130 856.5h6M156 856.5h20M260 856.5h8M536 856.5h1M802 856.5h2M871 856.5h2M908 856.5h1M984 856.5h2M1000 856.5h3M1020 856.5h8M1064 856.5h2M1357 856.5h2M126 857.5h4M176 857.5h2M255 857.5h5M537 857.5h2M804 857.5h2M869 857.5h2M909 857.5h2M981 857.5h3M1003 857.5h3M1012 857.5h8M1066 857.5h2M1240 857.5h1M1359 857.5h50M178 858.5h2M254 858.5h1M539 858.5h2M806 858.5h2M867 858.5h2M911 858.5h3M957 858.5h7M979 858.5h2M1006 858.5h6M1068 858.5h2M1239 858.5h1M1409 858.5h2M180 859.5h2M253 859.5h1M541 859.5h2M561 859.5h1M808 859.5h1M865 859.5h2M914 859.5h4M952 859.5h5M964 859.5h8M977 859.5h2M1070 859.5h10M1238 859.5h1M1411 859.5h2M182 860.5h2M252 860.5h1M543 860.5h5M809 860.5h2M862 860.5h3M918 860.5h4M946 860.5h6M972 860.5h5M1080 860.5h9M1413 860.5h2M184 861.5h1M206 861.5h4M251 861.5h1M548 861.5h8M811 861.5h2M859 861.5h3M922 861.5h4M936 861.5h10M1089 861.5h2M1415 861.5h2M185 862.5h2M202 862.5h4M210 862.5h4M250 862.5h1M556 862.5h4M813 862.5h2M856 862.5h3M926 862.5h10M1091 862.5h2M1236 862.5h1M1417 862.5h2M187 863.5h2M198 863.5h4M214 863.5h4M249 863.5h1M815 863.5h3M852 863.5h4M1093 863.5h3M1235 863.5h1M1419 863.5h2M189 864.5h2M194 864.5h4M218 864.5h4M248 864.5h1M818 864.5h4M849 864.5h3M1096 864.5h2M1234 864.5h1M1421 864.5h2M191 865.5h3M222 865.5h3M246 865.5h2M822 865.5h4M844 865.5h5M1098 865.5h2M1116 865.5h8M1423 865.5h1M225 866.5h2M245 866.5h1M826 866.5h4M836 866.5h8M1100 866.5h2M1108 866.5h8M1124 866.5h8M227 867.5h2M244 867.5h1M830 867.5h6M1102 867.5h6M1132 867.5h5M1232 867.5h1M229 868.5h3M243 868.5h1M1137 868.5h3M1229 868.5h3M232 869.5h2M242 869.5h1M1140 869.5h4M1224 869.5h5M234 870.5h2M241 870.5h1M1144 870.5h3M1198 870.5h10M1218 870.5h6M236 871.5h2M240 871.5h1M1147 871.5h3M1196 871.5h2M1208 871.5h10M238 872.5h2M1150 872.5h4M1194 872.5h2M1154 873.5h4M1192 873.5h2M1158 874.5h4M1189 874.5h3M1162 875.5h4M1187 875.5h2M1166 876.5h10M1185 876.5h2M1176 877.5h9" fill="none" stroke="#1e90ff" stroke-width="1" shape-rendering="crispEdges"/>
</g>
<text x="3" y="784" font-size="9.33" fill="#000" stroke="#000" stroke-width="0.18">RSI(14) 41.5461</text>
<g font-size="9.2" fill="#000" stroke="#000" stroke-width="0.18">
<rect x="1628" y="773" width="1" height="1" fill="#000" />
<text x="1630.3" y="781.5">100</text>
<text x="1630.3" y="807.1">80</text>
<text x="1630.3" y="854.1">50</text>
<text x="1630.3" y="910.1">15</text>
<text x="1630.3" y="927.1">0</text>
</g>
<g id="dates" font-size="9.33" fill="#000" stroke="#000" stroke-width="0.18">
<rect x="-1" y="932" width="1" height="3" fill="#000"/>
<text x="-2" y="944">28 Jan 2019</text>
<rect x="63" y="932" width="1" height="3" fill="#000"/>
<text x="62" y="944">1 Feb 2019</text>
<rect x="127" y="932" width="1" height="3" fill="#000"/>
<text x="126" y="944">6 Feb 2019</text>
<rect x="191" y="932" width="1" height="3" fill="#000"/>
<text x="190" y="944">11 Feb 2019</text>
<rect x="255" y="932" width="1" height="3" fill="#000"/>
<text x="254" y="944">15 Feb 2019</text>
<rect x="319" y="932" width="1" height="3" fill="#000"/>
<text x="318" y="944">20 Feb 2019</text>
<rect x="383" y="932" width="1" height="3" fill="#000"/>
<text x="382" y="944">25 Feb 2019</text>
<rect x="447" y="932" width="1" height="3" fill="#000"/>
<text x="446" y="944">1 Mar 2019</text>
<rect x="511" y="932" width="1" height="3" fill="#000"/>
<text x="510" y="944">6 Mar 2019</text>
<rect x="575" y="932" width="1" height="3" fill="#000"/>
<text x="574" y="944">11 Mar 2019</text>
<rect x="639" y="932" width="1" height="3" fill="#000"/>
<text x="638" y="944">15 Mar 2019</text>
<rect x="703" y="932" width="1" height="3" fill="#000"/>
<text x="702" y="944">20 Mar 2019</text>
<rect x="767" y="932" width="1" height="3" fill="#000"/>
<text x="766" y="944">25 Mar 2019</text>
<rect x="831" y="932" width="1" height="3" fill="#000"/>
<text x="830" y="944">29 Mar 2019</text>
<rect x="895" y="932" width="1" height="3" fill="#000"/>
<text x="894" y="944">3 Apr 2019</text>
<rect x="959" y="932" width="1" height="3" fill="#000"/>
<text x="958" y="944">8 Apr 2019</text>
<rect x="1023" y="932" width="1" height="3" fill="#000"/>
<text x="1022" y="944">12 Apr 2019</text>
<rect x="1087" y="932" width="1" height="3" fill="#000"/>
<text x="1086" y="944">17 Apr 2019</text>
<rect x="1151" y="932" width="1" height="3" fill="#000"/>
<text x="1150" y="944">23 Apr 2019</text>
<rect x="1215" y="932" width="1" height="3" fill="#000"/>
<text x="1214" y="944">28 Apr 2019</text>
<rect x="1279" y="932" width="1" height="3" fill="#000"/>
<text x="1278" y="944">2 May 2019</text>
<rect x="1343" y="932" width="1" height="3" fill="#000"/>
<text x="1342" y="944">7 May 2019</text>
<rect x="1407" y="932" width="1" height="3" fill="#000"/>
<text x="1406" y="944">12 May 2019</text>
</g>
</svg>
</body></html>
